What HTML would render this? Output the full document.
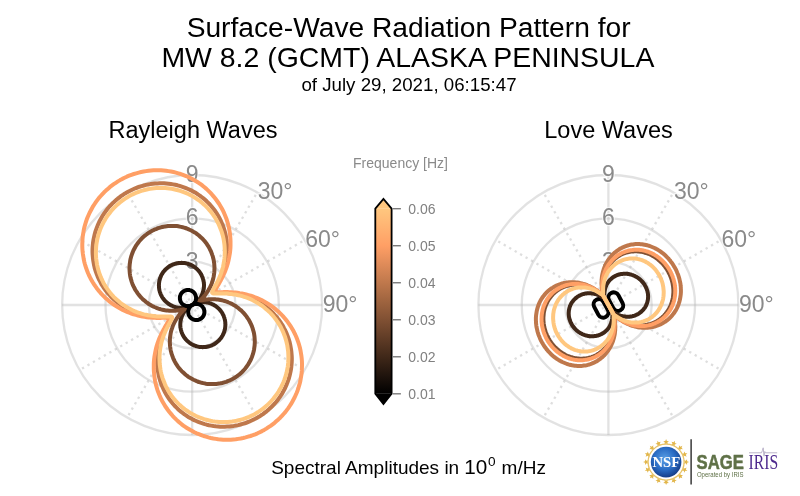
<!DOCTYPE html>
<html><head><meta charset="utf-8"><style>
    html,body{margin:0;padding:0;background:#fff;}
    svg{display:block;will-change:transform;}
    text{font-family:"Liberation Sans",sans-serif;}
    .t1{font-size:28.2px;fill:#000;}
    .t3{font-size:18.7px;fill:#000;}
    .st{font-size:23.5px;fill:#000;}
    .al{font-size:23px;fill:#8a8a8a;stroke:#fff;stroke-opacity:0.6;stroke-width:2.5px;paint-order:stroke;}
    .cl{font-size:14px;fill:#808080;}
    .ft{font-size:14px;fill:#8a8a8a;}
    .bt{font-size:19px;fill:#000;}
    </style></head>
<body><svg width="800" height="496" viewBox="0 0 800 496">
<text x="408.6" y="36.5" text-anchor="middle" class="t1">Surface-Wave Radiation Pattern for</text>
<text x="407.9" y="66.9" text-anchor="middle" class="t1" style="font-size:28.45px">MW 8.2 (GCMT) ALASKA PENINSULA</text>
<text x="409" y="90.7" text-anchor="middle" class="t3">of July 29, 2021, 06:15:47</text>
<text x="193" y="137.5" text-anchor="middle" class="st">Rayleigh Waves</text>
<text x="608.5" y="137.5" text-anchor="middle" class="st">Love Waves</text>
<circle cx="192.15" cy="305.0" r="43.33" fill="none" stroke="#b0b0b0" stroke-opacity="0.36" stroke-width="2.3"/>
<circle cx="192.15" cy="305.0" r="86.67" fill="none" stroke="#b0b0b0" stroke-opacity="0.36" stroke-width="2.3"/>
<circle cx="192.15" cy="305.0" r="130.00" fill="none" stroke="#b0b0b0" stroke-opacity="0.36" stroke-width="2.3"/>
<line x1="192.15" y1="305.0" x2="192.15" y2="175.00" stroke="#b0b0b0" stroke-opacity="0.36" stroke-width="2.3"/>
<line x1="192.15" y1="305.0" x2="257.15" y2="192.42" stroke="#b0b0b0" stroke-opacity="0.42" stroke-width="2.3" stroke-dasharray="2.3 4.0" stroke-dashoffset="1.15"/>
<line x1="192.15" y1="305.0" x2="304.73" y2="240.00" stroke="#b0b0b0" stroke-opacity="0.42" stroke-width="2.3" stroke-dasharray="2.3 4.0" stroke-dashoffset="1.15"/>
<line x1="192.15" y1="305.0" x2="322.15" y2="305.00" stroke="#b0b0b0" stroke-opacity="0.36" stroke-width="2.3"/>
<line x1="192.15" y1="305.0" x2="304.73" y2="370.00" stroke="#b0b0b0" stroke-opacity="0.42" stroke-width="2.3" stroke-dasharray="2.3 4.0" stroke-dashoffset="1.15"/>
<line x1="192.15" y1="305.0" x2="257.15" y2="417.58" stroke="#b0b0b0" stroke-opacity="0.42" stroke-width="2.3" stroke-dasharray="2.3 4.0" stroke-dashoffset="1.15"/>
<line x1="192.15" y1="305.0" x2="192.15" y2="435.00" stroke="#b0b0b0" stroke-opacity="0.36" stroke-width="2.3"/>
<line x1="192.15" y1="305.0" x2="127.15" y2="417.58" stroke="#b0b0b0" stroke-opacity="0.42" stroke-width="2.3" stroke-dasharray="2.3 4.0" stroke-dashoffset="1.15"/>
<line x1="192.15" y1="305.0" x2="79.57" y2="370.00" stroke="#b0b0b0" stroke-opacity="0.42" stroke-width="2.3" stroke-dasharray="2.3 4.0" stroke-dashoffset="1.15"/>
<line x1="192.15" y1="305.0" x2="62.15" y2="305.00" stroke="#b0b0b0" stroke-opacity="0.36" stroke-width="2.3"/>
<line x1="192.15" y1="305.0" x2="79.57" y2="240.00" stroke="#b0b0b0" stroke-opacity="0.42" stroke-width="2.3" stroke-dasharray="2.3 4.0" stroke-dashoffset="1.15"/>
<line x1="192.15" y1="305.0" x2="127.15" y2="192.42" stroke="#b0b0b0" stroke-opacity="0.42" stroke-width="2.3" stroke-dasharray="2.3 4.0" stroke-dashoffset="1.15"/>
<circle cx="608.4" cy="305.0" r="43.33" fill="none" stroke="#b0b0b0" stroke-opacity="0.36" stroke-width="2.3"/>
<circle cx="608.4" cy="305.0" r="86.67" fill="none" stroke="#b0b0b0" stroke-opacity="0.36" stroke-width="2.3"/>
<circle cx="608.4" cy="305.0" r="130.00" fill="none" stroke="#b0b0b0" stroke-opacity="0.36" stroke-width="2.3"/>
<line x1="608.4" y1="305.0" x2="608.40" y2="175.00" stroke="#b0b0b0" stroke-opacity="0.36" stroke-width="2.3"/>
<line x1="608.4" y1="305.0" x2="673.40" y2="192.42" stroke="#b0b0b0" stroke-opacity="0.42" stroke-width="2.3" stroke-dasharray="2.3 4.0" stroke-dashoffset="1.15"/>
<line x1="608.4" y1="305.0" x2="720.98" y2="240.00" stroke="#b0b0b0" stroke-opacity="0.42" stroke-width="2.3" stroke-dasharray="2.3 4.0" stroke-dashoffset="1.15"/>
<line x1="608.4" y1="305.0" x2="738.40" y2="305.00" stroke="#b0b0b0" stroke-opacity="0.36" stroke-width="2.3"/>
<line x1="608.4" y1="305.0" x2="720.98" y2="370.00" stroke="#b0b0b0" stroke-opacity="0.42" stroke-width="2.3" stroke-dasharray="2.3 4.0" stroke-dashoffset="1.15"/>
<line x1="608.4" y1="305.0" x2="673.40" y2="417.58" stroke="#b0b0b0" stroke-opacity="0.42" stroke-width="2.3" stroke-dasharray="2.3 4.0" stroke-dashoffset="1.15"/>
<line x1="608.4" y1="305.0" x2="608.40" y2="435.00" stroke="#b0b0b0" stroke-opacity="0.36" stroke-width="2.3"/>
<line x1="608.4" y1="305.0" x2="543.40" y2="417.58" stroke="#b0b0b0" stroke-opacity="0.42" stroke-width="2.3" stroke-dasharray="2.3 4.0" stroke-dashoffset="1.15"/>
<line x1="608.4" y1="305.0" x2="495.82" y2="370.00" stroke="#b0b0b0" stroke-opacity="0.42" stroke-width="2.3" stroke-dasharray="2.3 4.0" stroke-dashoffset="1.15"/>
<line x1="608.4" y1="305.0" x2="478.40" y2="305.00" stroke="#b0b0b0" stroke-opacity="0.36" stroke-width="2.3"/>
<line x1="608.4" y1="305.0" x2="495.82" y2="240.00" stroke="#b0b0b0" stroke-opacity="0.42" stroke-width="2.3" stroke-dasharray="2.3 4.0" stroke-dashoffset="1.15"/>
<line x1="608.4" y1="305.0" x2="543.40" y2="192.42" stroke="#b0b0b0" stroke-opacity="0.42" stroke-width="2.3" stroke-dasharray="2.3 4.0" stroke-dashoffset="1.15"/>
<text x="192.15" y="268.67" text-anchor="middle" class="al">3</text>
<text x="192.15" y="225.33" text-anchor="middle" class="al">6</text>
<text x="192.15" y="182.00" text-anchor="middle" class="al">9</text>
<text x="257.65" y="199.42" class="al">30°</text>
<text x="305.23" y="247.00" class="al">60°</text>
<text x="322.65" y="312.00" class="al">90°</text>
<text x="608.40" y="268.67" text-anchor="middle" class="al">3</text>
<text x="608.40" y="225.33" text-anchor="middle" class="al">6</text>
<text x="608.40" y="182.00" text-anchor="middle" class="al">9</text>
<text x="673.90" y="199.42" class="al">30°</text>
<text x="721.48" y="247.00" class="al">60°</text>
<text x="738.90" y="312.00" class="al">90°</text>
<path d="M192.2,265.6 L192.8,265.9 L193.5,266.3 L194.2,266.8 L194.8,267.2 L195.4,267.7 L196.0,268.2 L196.6,268.7 L197.2,269.2 L197.7,269.8 L198.3,270.4 L198.8,271.0 L199.3,271.6 L199.7,272.2 L200.2,272.8 L200.6,273.5 L201.0,274.2 L201.4,274.8 L201.7,275.5 L202.0,276.3 L202.4,277.0 L202.6,277.7 L202.9,278.4 L203.1,279.2 L203.3,279.9 L203.5,280.7 L203.6,281.5 L203.8,282.2 L203.9,283.0 L203.9,283.8 L204.0,284.5 L204.0,285.3 L204.0,286.1 L203.9,286.9 L203.9,287.6 L203.8,288.4 L203.7,289.2 L203.5,289.9 L203.4,290.7 L203.2,291.4 L202.9,292.1 L202.7,292.9 L202.4,293.6 L202.2,294.3 L201.8,295.0 L201.5,295.6 L201.2,296.3 L200.8,296.9 L200.4,297.6 L200.0,298.2 L199.6,298.8 L199.1,299.3 L198.7,299.9 L198.3,300.4 L197.8,300.9 L197.4,301.3 L197.0,301.8 L196.6,302.1 L196.2,302.5 L195.9,302.7 L195.7,302.9 L195.7,303.1 L195.7,303.1 L195.9,303.1 L196.2,303.0 L196.6,302.9 L197.1,302.8 L197.6,302.7 L198.2,302.6 L198.8,302.4 L199.5,302.3 L200.1,302.2 L200.8,302.2 L201.6,302.1 L202.3,302.1 L203.0,302.1 L203.8,302.1 L204.5,302.2 L205.2,302.2 L206.0,302.3 L206.7,302.4 L207.5,302.6 L208.2,302.7 L209.0,302.9 L209.7,303.2 L210.4,303.4 L211.1,303.7 L211.8,304.0 L212.5,304.3 L213.2,304.6 L213.9,305.0 L214.6,305.4 L215.2,305.8 L215.9,306.2 L216.5,306.7 L217.1,307.2 L217.7,307.7 L218.3,308.2 L218.8,308.8 L219.4,309.3 L219.9,309.9 L220.4,310.5 L220.9,311.1 L221.3,311.7 L221.8,312.4 L222.2,313.0 L222.6,313.7 L222.9,314.4 L223.3,315.1 L223.6,315.8 L223.9,316.5 L224.1,317.3 L224.4,318.0 L224.6,318.8 L224.8,319.5 L225.0,320.3 L225.1,321.1 L225.2,321.8 L225.3,322.6 L225.3,323.4 L225.4,324.2 L225.4,325.0 L225.3,325.7 L225.3,326.5 L225.2,327.3 L225.1,328.1 L225.0,328.9 L224.8,329.6 L224.6,330.4 L224.4,331.1 L224.2,331.9 L223.9,332.6 L223.6,333.3 L223.3,334.1 L223.0,334.8 L222.6,335.5 L222.2,336.1 L221.8,336.8 L221.4,337.5 L220.9,338.1 L220.4,338.7 L219.9,339.3 L219.4,339.9 L218.9,340.5 L218.3,341.0 L217.7,341.5 L217.1,342.0 L216.5,342.5 L215.9,343.0 L215.2,343.4 L214.6,343.9 L213.9,344.3 L213.2,344.6 L212.5,345.0 L211.8,345.3 L211.1,345.6 L210.3,345.9 L209.6,346.1 L208.9,346.3 L208.1,346.5 L207.3,346.7 L206.6,346.8 L205.8,347.0 L205.0,347.0 L204.2,347.1 L203.4,347.1 L202.7,347.2 L201.9,347.1 L201.1,347.1 L200.3,347.0 L199.5,346.9 L198.8,346.8 L198.0,346.6 L197.2,346.4 L196.5,346.2 L195.7,346.0 L195.0,345.7 L194.3,345.5 L193.6,345.1 L192.8,344.8 L192.2,344.4 L191.5,344.1 L190.8,343.7 L190.1,343.2 L189.5,342.8 L188.9,342.3 L188.3,341.8 L187.7,341.3 L187.1,340.8 L186.6,340.2 L186.0,339.6 L185.5,339.0 L185.0,338.4 L184.6,337.8 L184.1,337.2 L183.7,336.5 L183.3,335.8 L182.9,335.2 L182.6,334.5 L182.3,333.7 L181.9,333.0 L181.7,332.3 L181.4,331.6 L181.2,330.8 L181.0,330.1 L180.8,329.3 L180.7,328.5 L180.5,327.8 L180.4,327.0 L180.4,326.2 L180.3,325.5 L180.3,324.7 L180.3,323.9 L180.4,323.1 L180.4,322.4 L180.5,321.6 L180.6,320.8 L180.8,320.1 L180.9,319.3 L181.1,318.6 L181.4,317.9 L181.6,317.1 L181.9,316.4 L182.1,315.7 L182.5,315.0 L182.8,314.4 L183.1,313.7 L183.5,313.1 L183.9,312.4 L184.3,311.8 L184.7,311.2 L185.2,310.7 L185.6,310.1 L186.0,309.6 L186.5,309.1 L186.9,308.7 L187.3,308.2 L187.7,307.9 L188.1,307.5 L188.4,307.3 L188.6,307.1 L188.6,306.9 L188.6,306.9 L188.4,306.9 L188.1,307.0 L187.7,307.1 L187.2,307.2 L186.7,307.3 L186.1,307.4 L185.5,307.6 L184.8,307.7 L184.2,307.8 L183.5,307.8 L182.7,307.9 L182.0,307.9 L181.3,307.9 L180.5,307.9 L179.8,307.8 L179.1,307.8 L178.3,307.7 L177.6,307.6 L176.8,307.4 L176.1,307.3 L175.3,307.1 L174.6,306.8 L173.9,306.6 L173.2,306.3 L172.5,306.0 L171.8,305.7 L171.1,305.4 L170.4,305.0 L169.7,304.6 L169.1,304.2 L168.4,303.8 L167.8,303.3 L167.2,302.8 L166.6,302.3 L166.0,301.8 L165.5,301.2 L164.9,300.7 L164.4,300.1 L163.9,299.5 L163.4,298.9 L163.0,298.3 L162.5,297.6 L162.1,297.0 L161.7,296.3 L161.4,295.6 L161.0,294.9 L160.7,294.2 L160.4,293.5 L160.2,292.7 L159.9,292.0 L159.7,291.2 L159.5,290.5 L159.3,289.7 L159.2,288.9 L159.1,288.2 L159.0,287.4 L159.0,286.6 L158.9,285.8 L158.9,285.0 L159.0,284.3 L159.0,283.5 L159.1,282.7 L159.2,281.9 L159.3,281.1 L159.5,280.4 L159.7,279.6 L159.9,278.9 L160.1,278.1 L160.4,277.4 L160.7,276.7 L161.0,275.9 L161.3,275.2 L161.7,274.5 L162.1,273.9 L162.5,273.2 L162.9,272.5 L163.4,271.9 L163.9,271.3 L164.4,270.7 L164.9,270.1 L165.4,269.5 L166.0,269.0 L166.6,268.5 L167.2,268.0 L167.8,267.5 L168.4,267.0 L169.1,266.6 L169.7,266.1 L170.4,265.7 L171.1,265.4 L171.8,265.0 L172.5,264.7 L173.2,264.4 L174.0,264.1 L174.7,263.9 L175.4,263.7 L176.2,263.5 L177.0,263.3 L177.7,263.2 L178.5,263.0 L179.3,263.0 L180.1,262.9 L180.9,262.9 L181.6,262.8 L182.4,262.9 L183.2,262.9 L184.0,263.0 L184.8,263.1 L185.5,263.2 L186.3,263.4 L187.1,263.6 L187.8,263.8 L188.6,264.0 L189.3,264.3 L190.0,264.5 L190.7,264.9 L191.5,265.2 Z M195.7,303.1 L188.6,306.9" fill="none" stroke="#402819" stroke-width="4" stroke-linejoin="round"/>
<path d="M192.2,231.0 L193.4,231.7 L194.7,232.4 L195.9,233.2 L197.1,234.1 L198.3,235.0 L199.4,235.9 L200.5,236.9 L201.6,237.9 L202.6,238.9 L203.6,240.0 L204.6,241.1 L205.5,242.2 L206.4,243.4 L207.2,244.6 L208.0,245.8 L208.8,247.1 L209.5,248.4 L210.1,249.7 L210.8,251.0 L211.3,252.3 L211.8,253.7 L212.3,255.1 L212.8,256.4 L213.1,257.8 L213.5,259.3 L213.8,260.7 L214.0,262.1 L214.2,263.6 L214.3,265.0 L214.4,266.4 L214.5,267.9 L214.4,269.3 L214.4,270.8 L214.3,272.2 L214.1,273.6 L213.9,275.0 L213.7,276.4 L213.4,277.8 L213.1,279.2 L212.7,280.5 L212.2,281.9 L211.8,283.2 L211.3,284.5 L210.7,285.8 L210.2,287.0 L209.5,288.2 L208.9,289.4 L208.2,290.5 L207.5,291.6 L206.8,292.7 L206.1,293.7 L205.4,294.7 L204.7,295.6 L204.0,296.4 L203.3,297.2 L202.7,297.9 L202.1,298.5 L201.6,299.1 L201.3,299.5 L201.1,299.8 L201.0,300.1 L201.2,300.2 L201.5,300.2 L202.0,300.2 L202.6,300.1 L203.4,300.0 L204.3,299.8 L205.3,299.7 L206.4,299.5 L207.5,299.4 L208.7,299.3 L209.9,299.2 L211.2,299.2 L212.5,299.2 L213.8,299.2 L215.1,299.3 L216.5,299.4 L217.8,299.5 L219.2,299.7 L220.5,300.0 L221.9,300.3 L223.3,300.6 L224.6,301.0 L225.9,301.4 L227.3,301.9 L228.6,302.5 L229.9,303.0 L231.2,303.6 L232.5,304.3 L233.7,305.0 L235.0,305.7 L236.2,306.5 L237.3,307.4 L238.5,308.2 L239.6,309.2 L240.7,310.1 L241.8,311.1 L242.8,312.1 L243.8,313.2 L244.8,314.3 L245.7,315.4 L246.6,316.6 L247.4,317.8 L248.2,319.0 L249.0,320.2 L249.7,321.5 L250.3,322.8 L251.0,324.1 L251.6,325.5 L252.1,326.8 L252.6,328.2 L253.0,329.6 L253.4,331.0 L253.8,332.4 L254.1,333.9 L254.3,335.3 L254.5,336.8 L254.6,338.2 L254.7,339.7 L254.8,341.2 L254.8,342.6 L254.7,344.1 L254.6,345.6 L254.4,347.0 L254.2,348.5 L254.0,349.9 L253.7,351.3 L253.3,352.8 L252.9,354.2 L252.4,355.6 L251.9,357.0 L251.4,358.3 L250.8,359.7 L250.1,361.0 L249.4,362.3 L248.7,363.6 L247.9,364.8 L247.1,366.0 L246.2,367.2 L245.3,368.4 L244.4,369.5 L243.4,370.6 L242.4,371.7 L241.3,372.7 L240.2,373.7 L239.1,374.6 L237.9,375.5 L236.8,376.4 L235.5,377.2 L234.3,378.0 L233.0,378.7 L231.7,379.4 L230.4,380.1 L229.1,380.7 L227.7,381.2 L226.3,381.8 L224.9,382.2 L223.5,382.6 L222.1,383.0 L220.7,383.3 L219.2,383.6 L217.7,383.8 L216.3,384.0 L214.8,384.1 L213.4,384.1 L211.9,384.1 L210.4,384.1 L208.9,384.0 L207.5,383.9 L206.0,383.7 L204.6,383.4 L203.1,383.1 L201.7,382.8 L200.3,382.4 L198.9,382.0 L197.5,381.5 L196.1,380.9 L194.8,380.3 L193.5,379.7 L192.2,379.0 L190.9,378.3 L189.6,377.6 L188.4,376.8 L187.2,375.9 L186.0,375.0 L184.9,374.1 L183.8,373.1 L182.7,372.1 L181.7,371.1 L180.7,370.0 L179.7,368.9 L178.8,367.8 L177.9,366.6 L177.1,365.4 L176.3,364.2 L175.5,362.9 L174.8,361.6 L174.2,360.3 L173.5,359.0 L173.0,357.7 L172.5,356.3 L172.0,354.9 L171.5,353.6 L171.2,352.2 L170.8,350.7 L170.5,349.3 L170.3,347.9 L170.1,346.4 L170.0,345.0 L169.9,343.6 L169.8,342.1 L169.9,340.7 L169.9,339.2 L170.0,337.8 L170.2,336.4 L170.4,335.0 L170.6,333.6 L170.9,332.2 L171.2,330.8 L171.6,329.5 L172.1,328.1 L172.5,326.8 L173.0,325.5 L173.6,324.2 L174.1,323.0 L174.8,321.8 L175.4,320.6 L176.1,319.5 L176.8,318.4 L177.5,317.3 L178.2,316.3 L178.9,315.3 L179.6,314.4 L180.3,313.6 L181.0,312.8 L181.6,312.1 L182.2,311.5 L182.7,310.9 L183.0,310.5 L183.2,310.2 L183.3,309.9 L183.1,309.8 L182.8,309.8 L182.3,309.8 L181.7,309.9 L180.9,310.0 L180.0,310.2 L179.0,310.3 L177.9,310.5 L176.8,310.6 L175.6,310.7 L174.4,310.8 L173.1,310.8 L171.8,310.8 L170.5,310.8 L169.2,310.7 L167.8,310.6 L166.5,310.5 L165.1,310.3 L163.8,310.0 L162.4,309.7 L161.0,309.4 L159.7,309.0 L158.4,308.6 L157.0,308.1 L155.7,307.5 L154.4,307.0 L153.1,306.4 L151.8,305.7 L150.6,305.0 L149.3,304.3 L148.1,303.5 L147.0,302.6 L145.8,301.8 L144.7,300.8 L143.6,299.9 L142.5,298.9 L141.5,297.9 L140.5,296.8 L139.5,295.7 L138.6,294.6 L137.7,293.4 L136.9,292.2 L136.1,291.0 L135.3,289.8 L134.6,288.5 L134.0,287.2 L133.3,285.9 L132.7,284.5 L132.2,283.2 L131.7,281.8 L131.3,280.4 L130.9,279.0 L130.5,277.6 L130.2,276.1 L130.0,274.7 L129.8,273.2 L129.7,271.8 L129.6,270.3 L129.5,268.8 L129.5,267.4 L129.6,265.9 L129.7,264.4 L129.9,263.0 L130.1,261.5 L130.3,260.1 L130.6,258.7 L131.0,257.2 L131.4,255.8 L131.9,254.4 L132.4,253.0 L132.9,251.7 L133.5,250.3 L134.2,249.0 L134.9,247.7 L135.6,246.4 L136.4,245.2 L137.2,244.0 L138.1,242.8 L139.0,241.6 L139.9,240.5 L140.9,239.4 L141.9,238.3 L143.0,237.3 L144.1,236.3 L145.2,235.4 L146.4,234.5 L147.5,233.6 L148.8,232.8 L150.0,232.0 L151.3,231.3 L152.6,230.6 L153.9,229.9 L155.2,229.3 L156.6,228.8 L158.0,228.2 L159.4,227.8 L160.8,227.4 L162.2,227.0 L163.6,226.7 L165.1,226.4 L166.6,226.2 L168.0,226.0 L169.5,225.9 L170.9,225.9 L172.4,225.9 L173.9,225.9 L175.4,226.0 L176.8,226.1 L178.3,226.3 L179.7,226.6 L181.2,226.9 L182.6,227.2 L184.0,227.6 L185.4,228.0 L186.8,228.5 L188.2,229.1 L189.5,229.7 L190.8,230.3 Z M201.0,300.1 L183.3,309.9" fill="none" stroke="#805033" stroke-width="4" stroke-linejoin="round"/>
<path d="M192.2,190.9 L194.1,192.0 L196.1,193.1 L197.9,194.4 L199.8,195.6 L201.6,197.0 L203.4,198.4 L205.1,199.8 L206.7,201.3 L208.3,202.9 L209.9,204.5 L211.4,206.2 L212.8,207.9 L214.2,209.7 L215.5,211.5 L216.7,213.4 L217.9,215.3 L219.0,217.2 L220.0,219.2 L221.0,221.2 L221.9,223.2 L222.8,225.3 L223.5,227.4 L224.2,229.5 L224.8,231.6 L225.4,233.7 L225.8,235.9 L226.2,238.1 L226.6,240.3 L226.8,242.5 L227.0,244.6 L227.1,246.8 L227.1,249.0 L227.1,251.2 L227.0,253.3 L226.8,255.5 L226.6,257.6 L226.3,259.7 L225.9,261.8 L225.4,263.9 L225.0,265.9 L224.4,267.9 L223.8,269.8 L223.2,271.7 L222.5,273.6 L221.8,275.4 L221.0,277.1 L220.2,278.8 L219.4,280.4 L218.7,282.0 L217.9,283.4 L217.1,284.8 L216.4,286.1 L215.7,287.2 L215.1,288.3 L214.6,289.3 L214.2,290.1 L214.0,290.8 L213.8,291.5 L213.9,292.0 L214.1,292.3 L214.5,292.6 L215.0,292.8 L215.8,293.0 L216.7,293.0 L217.7,293.1 L218.9,293.1 L220.3,293.1 L221.7,293.1 L223.3,293.1 L224.9,293.1 L226.6,293.1 L228.4,293.2 L230.2,293.4 L232.1,293.5 L234.0,293.8 L236.0,294.1 L237.9,294.4 L239.9,294.8 L241.9,295.3 L243.9,295.9 L245.9,296.5 L247.9,297.2 L249.9,297.9 L251.9,298.7 L253.9,299.6 L255.8,300.5 L257.7,301.6 L259.6,302.6 L261.5,303.8 L263.3,305.0 L265.1,306.3 L266.9,307.6 L268.6,309.0 L270.3,310.5 L271.9,312.0 L273.5,313.5 L275.0,315.2 L276.4,316.8 L277.8,318.6 L279.2,320.3 L280.5,322.2 L281.7,324.0 L282.9,325.9 L283.9,327.9 L285.0,329.9 L285.9,331.9 L286.8,333.9 L287.6,336.0 L288.4,338.1 L289.1,340.3 L289.7,342.4 L290.2,344.6 L290.6,346.8 L291.0,349.0 L291.3,351.2 L291.5,353.5 L291.7,355.7 L291.8,358.0 L291.8,360.2 L291.7,362.5 L291.5,364.7 L291.3,366.9 L291.0,369.2 L290.6,371.4 L290.1,373.6 L289.6,375.8 L289.0,378.0 L288.3,380.1 L287.5,382.2 L286.7,384.4 L285.8,386.4 L284.9,388.5 L283.8,390.5 L282.7,392.5 L281.6,394.4 L280.3,396.3 L279.0,398.2 L277.7,400.0 L276.3,401.8 L274.8,403.5 L273.2,405.1 L271.7,406.8 L270.0,408.3 L268.3,409.9 L266.6,411.3 L264.8,412.7 L263.0,414.1 L261.1,415.3 L259.2,416.6 L257.2,417.7 L255.2,418.8 L253.2,419.8 L251.1,420.8 L249.1,421.7 L246.9,422.5 L244.8,423.3 L242.6,423.9 L240.4,424.5 L238.2,425.1 L236.0,425.5 L233.8,425.9 L231.5,426.2 L229.3,426.5 L227.0,426.6 L224.8,426.7 L222.5,426.7 L220.2,426.7 L218.0,426.5 L215.7,426.3 L213.5,426.0 L211.3,425.6 L209.0,425.2 L206.8,424.7 L204.7,424.1 L202.5,423.4 L200.4,422.7 L198.3,421.9 L196.2,421.0 L194.2,420.1 L192.2,419.1 L190.2,418.0 L188.2,416.9 L186.4,415.6 L184.5,414.4 L182.7,413.0 L180.9,411.6 L179.2,410.2 L177.6,408.7 L176.0,407.1 L174.4,405.5 L172.9,403.8 L171.5,402.1 L170.1,400.3 L168.8,398.5 L167.6,396.6 L166.4,394.7 L165.3,392.8 L164.3,390.8 L163.3,388.8 L162.4,386.8 L161.5,384.7 L160.8,382.6 L160.1,380.5 L159.5,378.4 L158.9,376.3 L158.5,374.1 L158.1,371.9 L157.7,369.7 L157.5,367.5 L157.3,365.4 L157.2,363.2 L157.2,361.0 L157.2,358.8 L157.3,356.7 L157.5,354.5 L157.7,352.4 L158.0,350.3 L158.4,348.2 L158.9,346.1 L159.3,344.1 L159.9,342.1 L160.5,340.2 L161.1,338.3 L161.8,336.4 L162.5,334.6 L163.3,332.9 L164.1,331.2 L164.9,329.6 L165.6,328.0 L166.4,326.6 L167.2,325.2 L167.9,323.9 L168.6,322.8 L169.2,321.7 L169.7,320.7 L170.1,319.9 L170.3,319.2 L170.5,318.5 L170.4,318.0 L170.2,317.7 L169.8,317.4 L169.3,317.2 L168.5,317.0 L167.6,317.0 L166.6,316.9 L165.4,316.9 L164.0,316.9 L162.6,316.9 L161.0,316.9 L159.4,316.9 L157.7,316.9 L155.9,316.8 L154.1,316.6 L152.2,316.5 L150.3,316.2 L148.3,315.9 L146.4,315.6 L144.4,315.2 L142.4,314.7 L140.4,314.1 L138.4,313.5 L136.4,312.8 L134.4,312.1 L132.4,311.3 L130.4,310.4 L128.5,309.5 L126.6,308.4 L124.7,307.4 L122.8,306.2 L121.0,305.0 L119.2,303.7 L117.4,302.4 L115.7,301.0 L114.0,299.5 L112.4,298.0 L110.8,296.5 L109.3,294.8 L107.9,293.2 L106.5,291.4 L105.1,289.7 L103.8,287.8 L102.6,286.0 L101.4,284.1 L100.4,282.1 L99.3,280.1 L98.4,278.1 L97.5,276.1 L96.7,274.0 L95.9,271.9 L95.2,269.7 L94.6,267.6 L94.1,265.4 L93.7,263.2 L93.3,261.0 L93.0,258.8 L92.8,256.5 L92.6,254.3 L92.5,252.0 L92.5,249.8 L92.6,247.5 L92.8,245.3 L93.0,243.1 L93.3,240.8 L93.7,238.6 L94.2,236.4 L94.7,234.2 L95.3,232.0 L96.0,229.9 L96.8,227.8 L97.6,225.6 L98.5,223.6 L99.4,221.5 L100.5,219.5 L101.6,217.5 L102.7,215.6 L104.0,213.7 L105.3,211.8 L106.6,210.0 L108.0,208.2 L109.5,206.5 L111.1,204.9 L112.6,203.2 L114.3,201.7 L116.0,200.1 L117.7,198.7 L119.5,197.3 L121.3,195.9 L123.2,194.7 L125.1,193.4 L127.1,192.3 L129.1,191.2 L131.1,190.2 L133.2,189.2 L135.2,188.3 L137.4,187.5 L139.5,186.7 L141.7,186.1 L143.9,185.5 L146.1,184.9 L148.3,184.5 L150.5,184.1 L152.8,183.8 L155.0,183.5 L157.3,183.4 L159.5,183.3 L161.8,183.3 L164.1,183.3 L166.3,183.5 L168.6,183.7 L170.8,184.0 L173.0,184.4 L175.3,184.8 L177.5,185.3 L179.6,185.9 L181.8,186.6 L183.9,187.3 L186.0,188.1 L188.1,189.0 L190.1,189.9 Z" fill="none" stroke="#bf784c" stroke-width="4" stroke-linejoin="round"/>
<path d="M192.2,179.0 L194.3,180.2 L196.5,181.5 L198.6,182.8 L200.6,184.2 L202.6,185.7 L204.5,187.3 L206.4,188.9 L208.2,190.6 L210.0,192.4 L211.7,194.2 L213.3,196.1 L214.9,198.0 L216.4,200.0 L217.8,202.0 L219.2,204.0 L220.5,206.2 L221.7,208.3 L222.9,210.5 L223.9,212.7 L224.9,215.0 L225.8,217.3 L226.7,219.6 L227.4,221.9 L228.1,224.3 L228.7,226.7 L229.2,229.1 L229.6,231.5 L230.0,233.9 L230.2,236.3 L230.4,238.7 L230.5,241.1 L230.5,243.6 L230.5,246.0 L230.4,248.3 L230.2,250.7 L229.9,253.1 L229.5,255.4 L229.1,257.7 L228.6,260.0 L228.1,262.2 L227.5,264.4 L226.8,266.5 L226.1,268.6 L225.3,270.7 L224.5,272.7 L223.6,274.6 L222.8,276.4 L221.9,278.2 L221.0,279.9 L220.1,281.5 L219.3,283.0 L218.5,284.4 L217.7,285.7 L217.0,286.9 L216.4,288.0 L216.0,288.9 L215.6,289.8 L215.5,290.4 L215.5,291.0 L215.7,291.4 L216.1,291.7 L216.7,292.0 L217.5,292.1 L218.5,292.2 L219.6,292.2 L220.9,292.2 L222.4,292.2 L224.0,292.1 L225.7,292.1 L227.5,292.1 L229.4,292.2 L231.3,292.3 L233.3,292.4 L235.4,292.6 L237.5,292.8 L239.7,293.2 L241.8,293.5 L244.0,294.0 L246.2,294.5 L248.4,295.1 L250.7,295.7 L252.9,296.5 L255.1,297.3 L257.3,298.2 L259.4,299.1 L261.6,300.1 L263.7,301.2 L265.8,302.4 L267.9,303.7 L269.9,305.0 L271.9,306.4 L273.9,307.9 L275.8,309.4 L277.6,311.0 L279.4,312.6 L281.2,314.4 L282.9,316.1 L284.5,318.0 L286.1,319.9 L287.6,321.8 L289.0,323.8 L290.4,325.9 L291.7,328.0 L292.9,330.1 L294.1,332.3 L295.2,334.5 L296.2,336.8 L297.1,339.1 L298.0,341.4 L298.8,343.8 L299.5,346.2 L300.1,348.6 L300.6,351.0 L301.0,353.5 L301.4,355.9 L301.7,358.4 L301.9,360.9 L302.0,363.4 L302.0,365.9 L301.9,368.4 L301.8,370.9 L301.6,373.4 L301.2,375.8 L300.8,378.3 L300.4,380.8 L299.8,383.2 L299.1,385.6 L298.4,388.0 L297.6,390.4 L296.7,392.7 L295.7,395.0 L294.7,397.3 L293.5,399.5 L292.3,401.8 L291.1,403.9 L289.7,406.0 L288.3,408.1 L286.8,410.1 L285.3,412.1 L283.6,414.0 L281.9,415.9 L280.2,417.7 L278.4,419.4 L276.5,421.1 L274.6,422.8 L272.6,424.3 L270.6,425.8 L268.5,427.2 L266.4,428.6 L264.2,429.9 L262.0,431.1 L259.8,432.2 L257.5,433.3 L255.2,434.3 L252.9,435.2 L250.5,436.0 L248.1,436.7 L245.6,437.4 L243.2,438.0 L240.7,438.5 L238.3,438.9 L235.8,439.3 L233.3,439.5 L230.8,439.7 L228.3,439.8 L225.7,439.8 L223.2,439.7 L220.7,439.5 L218.2,439.3 L215.8,438.9 L213.3,438.5 L210.8,438.0 L208.4,437.4 L206.0,436.7 L203.6,436.0 L201.3,435.1 L198.9,434.2 L196.6,433.3 L194.4,432.2 L192.2,431.0 L190.0,429.8 L187.8,428.5 L185.7,427.2 L183.7,425.8 L181.7,424.3 L179.8,422.7 L177.9,421.1 L176.1,419.4 L174.3,417.6 L172.6,415.8 L171.0,413.9 L169.4,412.0 L167.9,410.0 L166.5,408.0 L165.1,406.0 L163.8,403.8 L162.6,401.7 L161.4,399.5 L160.4,397.3 L159.4,395.0 L158.5,392.7 L157.6,390.4 L156.9,388.1 L156.2,385.7 L155.6,383.3 L155.1,380.9 L154.7,378.5 L154.3,376.1 L154.1,373.7 L153.9,371.3 L153.8,368.9 L153.8,366.4 L153.8,364.0 L153.9,361.7 L154.1,359.3 L154.4,356.9 L154.8,354.6 L155.2,352.3 L155.7,350.0 L156.2,347.8 L156.8,345.6 L157.5,343.5 L158.2,341.4 L159.0,339.3 L159.8,337.3 L160.7,335.4 L161.5,333.6 L162.4,331.8 L163.3,330.1 L164.2,328.5 L165.0,327.0 L165.8,325.6 L166.6,324.3 L167.3,323.1 L167.9,322.0 L168.3,321.1 L168.7,320.2 L168.8,319.6 L168.8,319.0 L168.6,318.6 L168.2,318.3 L167.6,318.0 L166.8,317.9 L165.8,317.8 L164.7,317.8 L163.4,317.8 L161.9,317.8 L160.3,317.9 L158.6,317.9 L156.8,317.9 L154.9,317.8 L153.0,317.7 L151.0,317.6 L148.9,317.4 L146.8,317.2 L144.6,316.8 L142.5,316.5 L140.3,316.0 L138.1,315.5 L135.9,314.9 L133.6,314.3 L131.4,313.5 L129.2,312.7 L127.0,311.8 L124.9,310.9 L122.7,309.9 L120.6,308.8 L118.5,307.6 L116.4,306.3 L114.4,305.0 L112.4,303.6 L110.4,302.1 L108.5,300.6 L106.7,299.0 L104.9,297.4 L103.1,295.6 L101.4,293.9 L99.8,292.0 L98.2,290.1 L96.7,288.2 L95.3,286.2 L93.9,284.1 L92.6,282.0 L91.4,279.9 L90.2,277.7 L89.1,275.5 L88.1,273.2 L87.2,270.9 L86.3,268.6 L85.5,266.2 L84.8,263.8 L84.2,261.4 L83.7,259.0 L83.3,256.5 L82.9,254.1 L82.6,251.6 L82.4,249.1 L82.3,246.6 L82.3,244.1 L82.4,241.6 L82.5,239.1 L82.7,236.6 L83.1,234.2 L83.5,231.7 L83.9,229.2 L84.5,226.8 L85.2,224.4 L85.9,222.0 L86.7,219.6 L87.6,217.3 L88.6,215.0 L89.6,212.7 L90.8,210.5 L92.0,208.2 L93.2,206.1 L94.6,204.0 L96.0,201.9 L97.5,199.9 L99.0,197.9 L100.7,196.0 L102.4,194.1 L104.1,192.3 L105.9,190.6 L107.8,188.9 L109.7,187.2 L111.7,185.7 L113.7,184.2 L115.8,182.8 L117.9,181.4 L120.1,180.1 L122.3,178.9 L124.5,177.8 L126.8,176.7 L129.1,175.7 L131.4,174.8 L133.8,174.0 L136.2,173.3 L138.7,172.6 L141.1,172.0 L143.6,171.5 L146.0,171.1 L148.5,170.7 L151.0,170.5 L153.5,170.3 L156.0,170.2 L158.6,170.2 L161.1,170.3 L163.6,170.5 L166.1,170.7 L168.5,171.1 L171.0,171.5 L173.5,172.0 L175.9,172.6 L178.3,173.3 L180.7,174.0 L183.0,174.9 L185.4,175.8 L187.7,176.7 L189.9,177.8 Z" fill="none" stroke="#ff9f65" stroke-width="4" stroke-linejoin="round"/>
<path d="M192.2,196.0 L194.0,197.1 L195.9,198.3 L197.7,199.5 L199.4,200.7 L201.2,202.1 L202.8,203.5 L204.4,204.9 L206.0,206.4 L207.5,208.0 L209.0,209.6 L210.4,211.2 L211.7,212.9 L213.0,214.6 L214.2,216.4 L215.4,218.2 L216.5,220.1 L217.5,222.0 L218.5,223.9 L219.4,225.9 L220.2,227.9 L221.0,229.9 L221.7,231.9 L222.3,233.9 L222.9,236.0 L223.4,238.1 L223.8,240.2 L224.1,242.3 L224.4,244.4 L224.6,246.5 L224.7,248.6 L224.8,250.7 L224.8,252.8 L224.7,254.8 L224.6,256.9 L224.4,259.0 L224.1,261.0 L223.8,263.0 L223.4,265.0 L223.0,266.9 L222.5,268.9 L221.9,270.7 L221.3,272.6 L220.7,274.4 L220.0,276.1 L219.3,277.8 L218.6,279.5 L217.8,281.0 L217.1,282.5 L216.3,284.0 L215.6,285.3 L214.9,286.6 L214.2,287.8 L213.6,288.8 L213.1,289.8 L212.7,290.6 L212.3,291.4 L212.1,292.0 L212.1,292.5 L212.2,292.9 L212.5,293.2 L213.0,293.4 L213.7,293.6 L214.5,293.6 L215.4,293.6 L216.5,293.6 L217.8,293.6 L219.1,293.6 L220.6,293.5 L222.1,293.5 L223.7,293.5 L225.4,293.6 L227.1,293.6 L228.9,293.8 L230.8,293.9 L232.6,294.2 L234.5,294.4 L236.4,294.8 L238.3,295.2 L240.3,295.6 L242.2,296.2 L244.1,296.8 L246.1,297.4 L248.0,298.1 L249.9,298.9 L251.8,299.8 L253.6,300.7 L255.5,301.7 L257.3,302.7 L259.1,303.8 L260.9,305.0 L262.6,306.2 L264.3,307.5 L265.9,308.9 L267.5,310.3 L269.1,311.7 L270.6,313.2 L272.1,314.8 L273.5,316.4 L274.8,318.1 L276.1,319.8 L277.4,321.6 L278.6,323.4 L279.7,325.2 L280.8,327.1 L281.7,329.0 L282.7,331.0 L283.5,332.9 L284.3,335.0 L285.1,337.0 L285.7,339.1 L286.3,341.1 L286.8,343.3 L287.3,345.4 L287.6,347.5 L287.9,349.7 L288.2,351.8 L288.3,354.0 L288.4,356.2 L288.4,358.4 L288.3,360.5 L288.2,362.7 L288.0,364.9 L287.7,367.0 L287.3,369.2 L286.9,371.3 L286.4,373.4 L285.8,375.5 L285.1,377.6 L284.4,379.7 L283.6,381.7 L282.7,383.7 L281.8,385.7 L280.8,387.7 L279.7,389.6 L278.6,391.5 L277.4,393.3 L276.2,395.1 L274.8,396.8 L273.5,398.5 L272.0,400.2 L270.6,401.8 L269.0,403.4 L267.4,404.9 L265.8,406.3 L264.1,407.7 L262.4,409.1 L260.6,410.4 L258.8,411.6 L256.9,412.8 L255.0,413.9 L253.1,414.9 L251.1,415.9 L249.1,416.8 L247.1,417.6 L245.0,418.4 L242.9,419.1 L240.8,419.7 L238.7,420.2 L236.6,420.7 L234.4,421.1 L232.2,421.5 L230.1,421.7 L227.9,421.9 L225.7,422.0 L223.5,422.1 L221.3,422.0 L219.1,421.9 L217.0,421.7 L214.8,421.5 L212.6,421.2 L210.5,420.8 L208.4,420.3 L206.2,419.7 L204.1,419.1 L202.1,418.4 L200.0,417.7 L198.0,416.9 L196.0,416.0 L194.1,415.0 L192.2,414.0 L190.3,412.9 L188.4,411.7 L186.6,410.5 L184.9,409.3 L183.1,407.9 L181.5,406.5 L179.9,405.1 L178.3,403.6 L176.8,402.0 L175.3,400.4 L173.9,398.8 L172.6,397.1 L171.3,395.4 L170.1,393.6 L168.9,391.8 L167.8,389.9 L166.8,388.0 L165.8,386.1 L164.9,384.1 L164.1,382.1 L163.3,380.1 L162.6,378.1 L162.0,376.1 L161.4,374.0 L160.9,371.9 L160.5,369.8 L160.2,367.7 L159.9,365.6 L159.7,363.5 L159.6,361.4 L159.5,359.3 L159.5,357.2 L159.6,355.2 L159.7,353.1 L159.9,351.0 L160.2,349.0 L160.5,347.0 L160.9,345.0 L161.3,343.1 L161.8,341.1 L162.4,339.3 L163.0,337.4 L163.6,335.6 L164.3,333.9 L165.0,332.2 L165.7,330.5 L166.5,329.0 L167.2,327.5 L168.0,326.0 L168.7,324.7 L169.4,323.4 L170.1,322.2 L170.7,321.2 L171.2,320.2 L171.6,319.4 L172.0,318.6 L172.2,318.0 L172.2,317.5 L172.1,317.1 L171.8,316.8 L171.3,316.6 L170.6,316.4 L169.8,316.4 L168.9,316.4 L167.8,316.4 L166.5,316.4 L165.2,316.4 L163.7,316.5 L162.2,316.5 L160.6,316.5 L158.9,316.4 L157.2,316.4 L155.4,316.2 L153.5,316.1 L151.7,315.8 L149.8,315.6 L147.9,315.2 L146.0,314.8 L144.0,314.4 L142.1,313.8 L140.2,313.2 L138.2,312.6 L136.3,311.9 L134.4,311.1 L132.5,310.2 L130.7,309.3 L128.8,308.3 L127.0,307.3 L125.2,306.2 L123.4,305.0 L121.7,303.8 L120.0,302.5 L118.4,301.1 L116.8,299.7 L115.2,298.3 L113.7,296.8 L112.2,295.2 L110.8,293.6 L109.5,291.9 L108.2,290.2 L106.9,288.4 L105.7,286.6 L104.6,284.8 L103.5,282.9 L102.6,281.0 L101.6,279.0 L100.8,277.1 L100.0,275.0 L99.2,273.0 L98.6,270.9 L98.0,268.9 L97.5,266.7 L97.0,264.6 L96.7,262.5 L96.4,260.3 L96.1,258.2 L96.0,256.0 L95.9,253.8 L95.9,251.6 L96.0,249.5 L96.1,247.3 L96.3,245.1 L96.6,243.0 L97.0,240.8 L97.4,238.7 L97.9,236.6 L98.5,234.5 L99.2,232.4 L99.9,230.3 L100.7,228.3 L101.6,226.3 L102.5,224.3 L103.5,222.3 L104.6,220.4 L105.7,218.5 L106.9,216.7 L108.1,214.9 L109.5,213.2 L110.8,211.5 L112.3,209.8 L113.7,208.2 L115.3,206.6 L116.9,205.1 L118.5,203.7 L120.2,202.3 L121.9,200.9 L123.7,199.6 L125.5,198.4 L127.4,197.2 L129.3,196.1 L131.2,195.1 L133.2,194.1 L135.2,193.2 L137.2,192.4 L139.3,191.6 L141.4,190.9 L143.5,190.3 L145.6,189.8 L147.7,189.3 L149.9,188.9 L152.1,188.5 L154.2,188.3 L156.4,188.1 L158.6,188.0 L160.8,187.9 L163.0,188.0 L165.2,188.1 L167.3,188.3 L169.5,188.5 L171.7,188.8 L173.8,189.2 L175.9,189.7 L178.1,190.3 L180.2,190.9 L182.2,191.6 L184.3,192.3 L186.3,193.1 L188.3,194.0 L190.2,195.0 Z" fill="none" stroke="#ffc77f" stroke-width="4" stroke-linejoin="round"/>
<path d="M192.2,291.1 L192.4,291.3 L192.6,291.4 L192.9,291.6 L193.1,291.8 L193.3,291.9 L193.5,292.1 L193.7,292.3 L193.9,292.5 L194.1,292.7 L194.3,293.0 L194.4,293.2 L194.6,293.4 L194.8,293.6 L194.9,293.9 L195.1,294.1 L195.2,294.4 L195.3,294.6 L195.4,294.9 L195.5,295.2 L195.6,295.4 L195.7,295.7 L195.8,296.0 L195.9,296.2 L195.9,296.5 L196.0,296.8 L196.0,297.1 L196.0,297.3 L196.1,297.6 L196.1,297.9 L196.1,298.2 L196.1,298.5 L196.1,298.8 L196.0,299.0 L196.0,299.3 L195.9,299.6 L195.9,299.9 L195.8,300.1 L195.7,300.4 L195.6,300.7 L195.5,301.0 L195.4,301.2 L195.3,301.5 L195.2,301.7 L195.1,302.0 L194.9,302.2 L194.8,302.5 L194.6,302.7 L194.5,302.9 L194.3,303.1 L194.1,303.4 L193.9,303.6 L193.7,303.8 L193.5,304.0 L193.3,304.2 L193.1,304.3 L192.9,304.5 L192.7,304.7 L192.5,304.8 L192.4,304.8 L192.5,304.8 L192.7,304.7 L192.9,304.6 L193.2,304.5 L193.4,304.4 L193.7,304.3 L194.0,304.2 L194.2,304.1 L194.5,304.0 L194.8,304.0 L195.1,303.9 L195.3,303.9 L195.6,303.9 L195.9,303.9 L196.2,303.8 L196.5,303.8 L196.8,303.9 L197.0,303.9 L197.3,303.9 L197.6,303.9 L197.9,304.0 L198.2,304.0 L198.4,304.1 L198.7,304.2 L199.0,304.3 L199.2,304.4 L199.5,304.5 L199.8,304.6 L200.0,304.7 L200.3,304.9 L200.5,305.0 L200.7,305.1 L201.0,305.3 L201.2,305.5 L201.4,305.6 L201.6,305.8 L201.9,306.0 L202.1,306.2 L202.3,306.4 L202.4,306.6 L202.6,306.8 L202.8,307.1 L203.0,307.3 L203.1,307.5 L203.3,307.8 L203.4,308.0 L203.5,308.3 L203.7,308.5 L203.8,308.8 L203.9,309.0 L204.0,309.3 L204.1,309.6 L204.1,309.8 L204.2,310.1 L204.3,310.4 L204.3,310.7 L204.4,311.0 L204.4,311.2 L204.4,311.5 L204.4,311.8 L204.4,312.1 L204.4,312.4 L204.4,312.7 L204.4,312.9 L204.3,313.2 L204.3,313.5 L204.2,313.8 L204.1,314.0 L204.1,314.3 L204.0,314.6 L203.9,314.8 L203.8,315.1 L203.7,315.4 L203.5,315.6 L203.4,315.9 L203.3,316.1 L203.1,316.4 L203.0,316.6 L202.8,316.8 L202.6,317.0 L202.4,317.3 L202.2,317.5 L202.1,317.7 L201.8,317.9 L201.6,318.1 L201.4,318.2 L201.2,318.4 L201.0,318.6 L200.7,318.7 L200.5,318.9 L200.3,319.0 L200.0,319.2 L199.7,319.3 L199.5,319.4 L199.2,319.5 L199.0,319.6 L198.7,319.7 L198.4,319.8 L198.1,319.8 L197.9,319.9 L197.6,319.9 L197.3,320.0 L197.0,320.0 L196.7,320.0 L196.5,320.0 L196.2,320.0 L195.9,320.0 L195.6,320.0 L195.3,320.0 L195.1,319.9 L194.8,319.9 L194.5,319.8 L194.2,319.8 L194.0,319.7 L193.7,319.6 L193.4,319.5 L193.2,319.4 L192.9,319.3 L192.6,319.2 L192.4,319.0 L192.2,318.9 L191.9,318.7 L191.7,318.6 L191.4,318.4 L191.2,318.2 L191.0,318.1 L190.8,317.9 L190.6,317.7 L190.4,317.5 L190.2,317.3 L190.0,317.0 L189.9,316.8 L189.7,316.6 L189.5,316.4 L189.4,316.1 L189.2,315.9 L189.1,315.6 L189.0,315.4 L188.9,315.1 L188.8,314.8 L188.7,314.6 L188.6,314.3 L188.5,314.0 L188.4,313.8 L188.4,313.5 L188.3,313.2 L188.3,312.9 L188.3,312.7 L188.2,312.4 L188.2,312.1 L188.2,311.8 L188.2,311.5 L188.2,311.2 L188.3,311.0 L188.3,310.7 L188.4,310.4 L188.4,310.1 L188.5,309.9 L188.6,309.6 L188.7,309.3 L188.8,309.0 L188.9,308.8 L189.0,308.5 L189.1,308.3 L189.2,308.0 L189.4,307.8 L189.5,307.5 L189.7,307.3 L189.8,307.1 L190.0,306.9 L190.2,306.6 L190.4,306.4 L190.6,306.2 L190.8,306.0 L191.0,305.8 L191.2,305.7 L191.4,305.5 L191.6,305.3 L191.8,305.2 L191.9,305.2 L191.8,305.2 L191.6,305.3 L191.4,305.4 L191.1,305.5 L190.9,305.6 L190.6,305.7 L190.3,305.8 L190.1,305.9 L189.8,306.0 L189.5,306.0 L189.2,306.1 L189.0,306.1 L188.7,306.1 L188.4,306.1 L188.1,306.2 L187.8,306.2 L187.5,306.1 L187.3,306.1 L187.0,306.1 L186.7,306.1 L186.4,306.0 L186.1,306.0 L185.9,305.9 L185.6,305.8 L185.3,305.7 L185.1,305.6 L184.8,305.5 L184.5,305.4 L184.3,305.3 L184.0,305.1 L183.8,305.0 L183.6,304.9 L183.3,304.7 L183.1,304.5 L182.9,304.4 L182.7,304.2 L182.4,304.0 L182.2,303.8 L182.0,303.6 L181.9,303.4 L181.7,303.2 L181.5,302.9 L181.3,302.7 L181.2,302.5 L181.0,302.2 L180.9,302.0 L180.8,301.7 L180.6,301.5 L180.5,301.2 L180.4,301.0 L180.3,300.7 L180.2,300.4 L180.2,300.2 L180.1,299.9 L180.0,299.6 L180.0,299.3 L179.9,299.0 L179.9,298.8 L179.9,298.5 L179.9,298.2 L179.9,297.9 L179.9,297.6 L179.9,297.3 L179.9,297.1 L180.0,296.8 L180.0,296.5 L180.1,296.2 L180.2,296.0 L180.2,295.7 L180.3,295.4 L180.4,295.2 L180.5,294.9 L180.6,294.6 L180.8,294.4 L180.9,294.1 L181.0,293.9 L181.2,293.6 L181.3,293.4 L181.5,293.2 L181.7,293.0 L181.9,292.7 L182.1,292.5 L182.2,292.3 L182.5,292.1 L182.7,291.9 L182.9,291.8 L183.1,291.6 L183.3,291.4 L183.6,291.3 L183.8,291.1 L184.0,291.0 L184.3,290.8 L184.6,290.7 L184.8,290.6 L185.1,290.5 L185.3,290.4 L185.6,290.3 L185.9,290.2 L186.2,290.2 L186.4,290.1 L186.7,290.1 L187.0,290.0 L187.3,290.0 L187.6,290.0 L187.8,290.0 L188.1,290.0 L188.4,290.0 L188.7,290.0 L189.0,290.0 L189.2,290.1 L189.5,290.1 L189.8,290.2 L190.1,290.2 L190.3,290.3 L190.6,290.4 L190.9,290.5 L191.1,290.6 L191.4,290.7 L191.7,290.8 L191.9,291.0 Z" fill="none" stroke="#000000" stroke-width="4" stroke-linejoin="round"/>
<rect x="606.00" y="296.30" width="19.6" height="10.6" rx="5.3" ry="5.3" transform="rotate(62 615.80 301.60)" fill="none" stroke="#000000" stroke-width="4"/>
<rect x="591.20" y="303.10" width="19.6" height="10.6" rx="5.3" ry="5.3" transform="rotate(62 601.00 308.40)" fill="none" stroke="#000000" stroke-width="4"/>
<path d="M608.4,281.8 L608.8,281.3 L609.2,280.8 L609.7,280.2 L610.2,279.7 L610.7,279.3 L611.2,278.8 L611.7,278.4 L612.2,277.9 L612.8,277.5 L613.3,277.1 L613.9,276.8 L614.5,276.4 L615.1,276.1 L615.7,275.8 L616.3,275.5 L616.9,275.2 L617.6,275.0 L618.2,274.7 L618.9,274.5 L619.6,274.4 L620.2,274.2 L620.9,274.1 L621.6,273.9 L622.3,273.9 L623.0,273.8 L623.6,273.7 L624.3,273.7 L625.0,273.7 L625.7,273.7 L626.4,273.8 L627.1,273.8 L627.8,273.9 L628.5,274.0 L629.2,274.2 L629.9,274.3 L630.6,274.5 L631.3,274.7 L631.9,274.9 L632.6,275.1 L633.3,275.4 L633.9,275.6 L634.6,275.9 L635.2,276.3 L635.8,276.6 L636.5,276.9 L637.1,277.3 L637.7,277.7 L638.3,278.1 L638.8,278.5 L639.4,279.0 L640.0,279.4 L640.5,279.9 L641.0,280.4 L641.5,280.9 L642.0,281.5 L642.5,282.0 L643.0,282.5 L643.4,283.1 L643.9,283.7 L644.3,284.3 L644.7,284.9 L645.0,285.5 L645.4,286.2 L645.7,286.8 L646.0,287.5 L646.3,288.1 L646.6,288.8 L646.8,289.5 L647.1,290.2 L647.3,290.8 L647.5,291.5 L647.6,292.3 L647.8,293.0 L647.9,293.7 L648.0,294.4 L648.0,295.1 L648.1,295.8 L648.1,296.6 L648.1,297.3 L648.0,298.0 L648.0,298.7 L647.9,299.5 L647.8,300.2 L647.6,300.9 L647.5,301.6 L647.3,302.3 L647.1,303.0 L646.8,303.7 L646.6,304.3 L646.3,305.0 L646.0,305.7 L645.6,306.3 L645.3,306.9 L644.9,307.6 L644.5,308.2 L644.0,308.7 L643.6,309.3 L643.1,309.9 L642.6,310.4 L642.1,310.9 L641.6,311.4 L641.0,311.9 L640.4,312.4 L639.9,312.8 L639.3,313.3 L638.6,313.7 L638.0,314.0 L637.3,314.4 L636.7,314.7 L636.0,315.0 L635.3,315.3 L634.6,315.6 L633.9,315.8 L633.2,316.0 L632.5,316.2 L631.7,316.4 L631.0,316.5 L630.2,316.6 L629.5,316.7 L628.7,316.7 L628.0,316.8 L627.3,316.8 L626.5,316.8 L625.8,316.7 L625.0,316.6 L624.3,316.6 L623.6,316.4 L622.9,316.3 L622.2,316.1 L621.5,316.0 L620.8,315.8 L620.1,315.5 L619.5,315.3 L618.8,315.1 L618.2,314.8 L617.6,314.5 L617.1,314.3 L616.5,314.0 L616.0,313.7 L615.5,313.5 L615.0,313.2 L614.6,312.9 L614.2,312.7 L613.9,312.5 L613.5,312.3 L613.3,312.2 L613.0,312.1 L612.8,312.1 L612.7,312.1 L612.6,312.2 L612.5,312.4 L612.4,312.6 L612.4,312.8 L612.4,313.2 L612.4,313.5 L612.4,314.0 L612.4,314.4 L612.4,314.9 L612.4,315.4 L612.4,316.0 L612.4,316.5 L612.3,317.1 L612.3,317.7 L612.2,318.3 L612.1,319.0 L612.0,319.6 L611.9,320.2 L611.8,320.9 L611.6,321.5 L611.4,322.2 L611.2,322.8 L611.0,323.4 L610.7,324.0 L610.5,324.7 L610.2,325.3 L609.9,325.9 L609.5,326.5 L609.2,327.0 L608.8,327.6 L608.4,328.2 L608.0,328.7 L607.6,329.2 L607.1,329.8 L606.6,330.3 L606.1,330.7 L605.6,331.2 L605.1,331.6 L604.6,332.1 L604.0,332.5 L603.5,332.9 L602.9,333.2 L602.3,333.6 L601.7,333.9 L601.1,334.2 L600.5,334.5 L599.9,334.8 L599.2,335.0 L598.6,335.3 L597.9,335.5 L597.2,335.6 L596.6,335.8 L595.9,335.9 L595.2,336.1 L594.5,336.1 L593.8,336.2 L593.2,336.3 L592.5,336.3 L591.8,336.3 L591.1,336.3 L590.4,336.2 L589.7,336.2 L589.0,336.1 L588.3,336.0 L587.6,335.8 L586.9,335.7 L586.2,335.5 L585.5,335.3 L584.9,335.1 L584.2,334.9 L583.5,334.6 L582.9,334.4 L582.2,334.1 L581.6,333.7 L581.0,333.4 L580.3,333.1 L579.7,332.7 L579.1,332.3 L578.5,331.9 L578.0,331.5 L577.4,331.0 L576.8,330.6 L576.3,330.1 L575.8,329.6 L575.3,329.1 L574.8,328.5 L574.3,328.0 L573.8,327.5 L573.4,326.9 L572.9,326.3 L572.5,325.7 L572.1,325.1 L571.8,324.5 L571.4,323.8 L571.1,323.2 L570.8,322.5 L570.5,321.9 L570.2,321.2 L570.0,320.5 L569.7,319.8 L569.5,319.2 L569.3,318.5 L569.2,317.7 L569.0,317.0 L568.9,316.3 L568.8,315.6 L568.8,314.9 L568.7,314.2 L568.7,313.4 L568.7,312.7 L568.8,312.0 L568.8,311.3 L568.9,310.5 L569.0,309.8 L569.2,309.1 L569.3,308.4 L569.5,307.7 L569.7,307.0 L570.0,306.3 L570.2,305.7 L570.5,305.0 L570.8,304.3 L571.2,303.7 L571.5,303.1 L571.9,302.4 L572.3,301.8 L572.8,301.3 L573.2,300.7 L573.7,300.1 L574.2,299.6 L574.7,299.1 L575.2,298.6 L575.8,298.1 L576.4,297.6 L576.9,297.2 L577.5,296.7 L578.2,296.3 L578.8,296.0 L579.5,295.6 L580.1,295.3 L580.8,295.0 L581.5,294.7 L582.2,294.4 L582.9,294.2 L583.6,294.0 L584.3,293.8 L585.1,293.6 L585.8,293.5 L586.6,293.4 L587.3,293.3 L588.1,293.3 L588.8,293.2 L589.5,293.2 L590.3,293.2 L591.0,293.3 L591.8,293.4 L592.5,293.4 L593.2,293.6 L593.9,293.7 L594.6,293.9 L595.3,294.0 L596.0,294.2 L596.7,294.5 L597.3,294.7 L598.0,294.9 L598.6,295.2 L599.2,295.5 L599.7,295.7 L600.3,296.0 L600.8,296.3 L601.3,296.5 L601.8,296.8 L602.2,297.1 L602.6,297.3 L602.9,297.5 L603.3,297.7 L603.5,297.8 L603.8,297.9 L604.0,297.9 L604.1,297.9 L604.2,297.8 L604.3,297.6 L604.4,297.4 L604.4,297.2 L604.4,296.8 L604.4,296.5 L604.4,296.0 L604.4,295.6 L604.4,295.1 L604.4,294.6 L604.4,294.0 L604.4,293.5 L604.5,292.9 L604.5,292.3 L604.6,291.7 L604.7,291.0 L604.8,290.4 L604.9,289.8 L605.0,289.1 L605.2,288.5 L605.4,287.8 L605.6,287.2 L605.8,286.6 L606.1,286.0 L606.3,285.3 L606.6,284.7 L606.9,284.1 L607.3,283.5 L607.6,283.0 L608.0,282.4 Z M612.7,312.1 L604.1,297.9" fill="none" stroke="#402819" stroke-width="4" stroke-linejoin="round"/>
<path d="M608.4,266.0 L609.1,265.0 L609.8,264.0 L610.6,263.1 L611.4,262.1 L612.2,261.2 L613.1,260.4 L614.0,259.5 L614.9,258.8 L615.8,258.0 L616.8,257.3 L617.8,256.6 L618.8,256.0 L619.9,255.3 L620.9,254.8 L622.0,254.3 L623.1,253.8 L624.2,253.3 L625.3,252.9 L626.4,252.6 L627.6,252.3 L628.7,252.0 L629.9,251.8 L631.1,251.6 L632.2,251.5 L633.4,251.4 L634.6,251.3 L635.8,251.3 L636.9,251.3 L638.1,251.4 L639.3,251.5 L640.5,251.7 L641.6,251.8 L642.8,252.1 L643.9,252.4 L645.0,252.7 L646.2,253.0 L647.3,253.4 L648.4,253.8 L649.5,254.3 L650.6,254.8 L651.6,255.3 L652.7,255.9 L653.7,256.4 L654.7,257.1 L655.7,257.7 L656.6,258.4 L657.6,259.1 L658.5,259.9 L659.4,260.7 L660.3,261.5 L661.1,262.3 L662.0,263.1 L662.8,264.0 L663.6,264.9 L664.3,265.8 L665.1,266.8 L665.8,267.8 L666.4,268.7 L667.1,269.7 L667.7,270.8 L668.3,271.8 L668.8,272.9 L669.4,273.9 L669.9,275.0 L670.3,276.1 L670.8,277.2 L671.2,278.3 L671.6,279.5 L671.9,280.6 L672.2,281.8 L672.5,282.9 L672.7,284.1 L672.9,285.3 L673.1,286.5 L673.2,287.6 L673.3,288.8 L673.4,290.0 L673.4,291.2 L673.4,292.4 L673.3,293.6 L673.2,294.7 L673.1,295.9 L673.0,297.1 L672.8,298.2 L672.5,299.4 L672.3,300.5 L672.0,301.7 L671.6,302.8 L671.2,303.9 L670.8,305.0 L670.3,306.1 L669.8,307.1 L669.3,308.2 L668.7,309.2 L668.1,310.2 L667.5,311.2 L666.8,312.2 L666.1,313.1 L665.4,314.0 L664.6,314.9 L663.8,315.8 L663.0,316.6 L662.1,317.4 L661.2,318.2 L660.3,318.9 L659.3,319.6 L658.3,320.3 L657.3,320.9 L656.3,321.5 L655.2,322.0 L654.1,322.5 L653.0,323.0 L651.9,323.5 L650.7,323.9 L649.6,324.2 L648.4,324.5 L647.2,324.8 L646.0,325.0 L644.8,325.2 L643.6,325.3 L642.4,325.4 L641.2,325.5 L639.9,325.5 L638.7,325.4 L637.5,325.3 L636.2,325.2 L635.0,325.1 L633.8,324.8 L632.6,324.6 L631.4,324.3 L630.2,324.0 L629.1,323.6 L627.9,323.2 L626.8,322.8 L625.7,322.3 L624.6,321.8 L623.6,321.3 L622.6,320.7 L621.6,320.2 L620.7,319.6 L619.8,319.1 L618.9,318.5 L618.2,317.9 L617.4,317.4 L616.8,316.9 L616.2,316.5 L615.6,316.1 L615.2,315.8 L614.8,315.7 L614.5,315.6 L614.3,315.6 L614.2,315.8 L614.1,316.1 L614.1,316.6 L614.1,317.2 L614.1,317.8 L614.2,318.6 L614.2,319.4 L614.3,320.4 L614.3,321.3 L614.4,322.4 L614.4,323.4 L614.4,324.5 L614.3,325.6 L614.2,326.8 L614.1,328.0 L614.0,329.1 L613.8,330.3 L613.6,331.5 L613.3,332.7 L613.0,333.9 L612.6,335.1 L612.2,336.2 L611.8,337.4 L611.3,338.5 L610.8,339.7 L610.3,340.8 L609.7,341.9 L609.1,342.9 L608.4,344.0 L607.7,345.0 L607.0,346.0 L606.2,346.9 L605.4,347.9 L604.6,348.8 L603.7,349.6 L602.8,350.5 L601.9,351.2 L601.0,352.0 L600.0,352.7 L599.0,353.4 L598.0,354.0 L596.9,354.7 L595.9,355.2 L594.8,355.7 L593.7,356.2 L592.6,356.7 L591.5,357.1 L590.4,357.4 L589.2,357.7 L588.1,358.0 L586.9,358.2 L585.7,358.4 L584.6,358.5 L583.4,358.6 L582.2,358.7 L581.0,358.7 L579.9,358.7 L578.7,358.6 L577.5,358.5 L576.3,358.3 L575.2,358.2 L574.0,357.9 L572.9,357.6 L571.8,357.3 L570.6,357.0 L569.5,356.6 L568.4,356.2 L567.3,355.7 L566.2,355.2 L565.2,354.7 L564.1,354.1 L563.1,353.6 L562.1,352.9 L561.1,352.3 L560.2,351.6 L559.2,350.9 L558.3,350.1 L557.4,349.3 L556.5,348.5 L555.7,347.7 L554.8,346.9 L554.0,346.0 L553.2,345.1 L552.5,344.2 L551.7,343.2 L551.0,342.2 L550.4,341.3 L549.7,340.3 L549.1,339.2 L548.5,338.2 L548.0,337.1 L547.4,336.1 L546.9,335.0 L546.5,333.9 L546.0,332.8 L545.6,331.7 L545.2,330.5 L544.9,329.4 L544.6,328.2 L544.3,327.1 L544.1,325.9 L543.9,324.7 L543.7,323.5 L543.6,322.4 L543.5,321.2 L543.4,320.0 L543.4,318.8 L543.4,317.6 L543.5,316.4 L543.6,315.3 L543.7,314.1 L543.8,312.9 L544.0,311.8 L544.3,310.6 L544.5,309.5 L544.8,308.3 L545.2,307.2 L545.6,306.1 L546.0,305.0 L546.5,303.9 L547.0,302.9 L547.5,301.8 L548.1,300.8 L548.7,299.8 L549.3,298.8 L550.0,297.8 L550.7,296.9 L551.4,296.0 L552.2,295.1 L553.0,294.2 L553.8,293.4 L554.7,292.6 L555.6,291.8 L556.5,291.1 L557.5,290.4 L558.5,289.7 L559.5,289.1 L560.5,288.5 L561.6,288.0 L562.7,287.5 L563.8,287.0 L564.9,286.5 L566.1,286.1 L567.2,285.8 L568.4,285.5 L569.6,285.2 L570.8,285.0 L572.0,284.8 L573.2,284.7 L574.4,284.6 L575.6,284.5 L576.9,284.5 L578.1,284.6 L579.3,284.7 L580.6,284.8 L581.8,284.9 L583.0,285.2 L584.2,285.4 L585.4,285.7 L586.6,286.0 L587.7,286.4 L588.9,286.8 L590.0,287.2 L591.1,287.7 L592.2,288.2 L593.2,288.7 L594.2,289.3 L595.2,289.8 L596.1,290.4 L597.0,290.9 L597.9,291.5 L598.6,292.1 L599.4,292.6 L600.0,293.1 L600.6,293.5 L601.2,293.9 L601.6,294.2 L602.0,294.3 L602.3,294.4 L602.5,294.4 L602.6,294.2 L602.7,293.9 L602.7,293.4 L602.7,292.8 L602.7,292.2 L602.6,291.4 L602.6,290.6 L602.5,289.6 L602.5,288.7 L602.4,287.6 L602.4,286.6 L602.4,285.5 L602.5,284.4 L602.6,283.2 L602.7,282.0 L602.8,280.9 L603.0,279.7 L603.2,278.5 L603.5,277.3 L603.8,276.1 L604.2,274.9 L604.6,273.8 L605.0,272.6 L605.5,271.5 L606.0,270.3 L606.5,269.2 L607.1,268.1 L607.7,267.1 Z M614.3,315.6 L602.5,294.4" fill="none" stroke="#805033" stroke-width="4" stroke-linejoin="round"/>
<path d="M608.4,259.8 L609.2,258.7 L610.1,257.6 L610.9,256.5 L611.9,255.4 L612.8,254.4 L613.8,253.5 L614.8,252.6 L615.9,251.7 L617.0,250.9 L618.1,250.1 L619.2,249.3 L620.4,248.6 L621.6,248.0 L622.8,247.4 L624.0,246.9 L625.2,246.4 L626.5,245.9 L627.7,245.5 L629.0,245.1 L630.3,244.8 L631.6,244.6 L632.9,244.4 L634.2,244.2 L635.5,244.1 L636.8,244.1 L638.1,244.1 L639.4,244.1 L640.7,244.2 L642.0,244.3 L643.3,244.5 L644.6,244.7 L645.9,245.0 L647.2,245.3 L648.4,245.6 L649.7,246.0 L650.9,246.5 L652.1,247.0 L653.3,247.5 L654.5,248.0 L655.7,248.6 L656.9,249.2 L658.0,249.9 L659.1,250.6 L660.2,251.3 L661.3,252.1 L662.3,252.9 L663.4,253.7 L664.4,254.6 L665.4,255.5 L666.3,256.4 L667.2,257.3 L668.2,258.3 L669.0,259.3 L669.9,260.3 L670.7,261.4 L671.5,262.4 L672.3,263.5 L673.0,264.6 L673.7,265.7 L674.4,266.9 L675.1,268.1 L675.7,269.2 L676.3,270.4 L676.8,271.6 L677.3,272.9 L677.8,274.1 L678.3,275.3 L678.7,276.6 L679.1,277.9 L679.4,279.1 L679.7,280.4 L680.0,281.7 L680.3,283.0 L680.5,284.3 L680.6,285.6 L680.8,287.0 L680.8,288.3 L680.9,289.6 L680.9,290.9 L680.9,292.2 L680.8,293.5 L680.7,294.8 L680.5,296.1 L680.3,297.4 L680.1,298.7 L679.8,300.0 L679.5,301.3 L679.1,302.5 L678.7,303.8 L678.3,305.0 L677.8,306.2 L677.3,307.4 L676.7,308.6 L676.1,309.7 L675.4,310.9 L674.7,312.0 L674.0,313.0 L673.2,314.1 L672.4,315.1 L671.5,316.1 L670.6,317.1 L669.7,318.0 L668.7,318.9 L667.7,319.8 L666.6,320.6 L665.6,321.4 L664.4,322.1 L663.3,322.8 L662.1,323.5 L660.9,324.1 L659.7,324.7 L658.5,325.2 L657.2,325.7 L655.9,326.1 L654.6,326.5 L653.2,326.9 L651.9,327.1 L650.5,327.4 L649.1,327.6 L647.7,327.7 L646.3,327.8 L644.9,327.8 L643.5,327.8 L642.1,327.7 L640.6,327.6 L639.2,327.4 L637.8,327.2 L636.4,326.9 L635.0,326.6 L633.7,326.2 L632.3,325.8 L630.9,325.3 L629.6,324.8 L628.3,324.2 L627.0,323.6 L625.8,323.0 L624.6,322.4 L623.4,321.7 L622.3,321.0 L621.2,320.3 L620.2,319.6 L619.2,318.9 L618.3,318.2 L617.5,317.5 L616.7,316.9 L616.1,316.4 L615.5,315.9 L615.0,315.6 L614.7,315.5 L614.4,315.5 L614.3,315.6 L614.2,316.0 L614.3,316.5 L614.3,317.2 L614.5,318.0 L614.6,318.9 L614.8,320.0 L614.9,321.1 L615.0,322.3 L615.1,323.5 L615.2,324.8 L615.3,326.1 L615.3,327.5 L615.2,328.8 L615.2,330.2 L615.0,331.6 L614.9,333.0 L614.7,334.4 L614.4,335.8 L614.1,337.2 L613.7,338.6 L613.3,340.0 L612.9,341.3 L612.4,342.7 L611.8,344.0 L611.2,345.3 L610.6,346.5 L609.9,347.8 L609.2,349.0 L608.4,350.2 L607.6,351.3 L606.7,352.4 L605.9,353.5 L604.9,354.6 L604.0,355.6 L603.0,356.5 L602.0,357.4 L600.9,358.3 L599.8,359.1 L598.7,359.9 L597.6,360.7 L596.4,361.4 L595.2,362.0 L594.0,362.6 L592.8,363.1 L591.6,363.6 L590.3,364.1 L589.1,364.5 L587.8,364.9 L586.5,365.2 L585.2,365.4 L583.9,365.6 L582.6,365.8 L581.3,365.9 L580.0,365.9 L578.7,365.9 L577.4,365.9 L576.1,365.8 L574.8,365.7 L573.5,365.5 L572.2,365.3 L570.9,365.0 L569.6,364.7 L568.4,364.4 L567.1,364.0 L565.9,363.5 L564.7,363.0 L563.5,362.5 L562.3,362.0 L561.1,361.4 L559.9,360.8 L558.8,360.1 L557.7,359.4 L556.6,358.7 L555.5,357.9 L554.5,357.1 L553.4,356.3 L552.4,355.4 L551.4,354.5 L550.5,353.6 L549.6,352.7 L548.6,351.7 L547.8,350.7 L546.9,349.7 L546.1,348.6 L545.3,347.6 L544.5,346.5 L543.8,345.4 L543.1,344.3 L542.4,343.1 L541.7,341.9 L541.1,340.8 L540.5,339.6 L540.0,338.4 L539.5,337.1 L539.0,335.9 L538.5,334.7 L538.1,333.4 L537.7,332.1 L537.4,330.9 L537.1,329.6 L536.8,328.3 L536.5,327.0 L536.3,325.7 L536.2,324.4 L536.0,323.0 L536.0,321.7 L535.9,320.4 L535.9,319.1 L535.9,317.8 L536.0,316.5 L536.1,315.2 L536.3,313.9 L536.5,312.6 L536.7,311.3 L537.0,310.0 L537.3,308.7 L537.7,307.5 L538.1,306.2 L538.5,305.0 L539.0,303.8 L539.5,302.6 L540.1,301.4 L540.7,300.3 L541.4,299.1 L542.1,298.0 L542.8,297.0 L543.6,295.9 L544.4,294.9 L545.3,293.9 L546.2,292.9 L547.1,292.0 L548.1,291.1 L549.1,290.2 L550.2,289.4 L551.2,288.6 L552.4,287.9 L553.5,287.2 L554.7,286.5 L555.9,285.9 L557.1,285.3 L558.3,284.8 L559.6,284.3 L560.9,283.9 L562.2,283.5 L563.6,283.1 L564.9,282.9 L566.3,282.6 L567.7,282.4 L569.1,282.3 L570.5,282.2 L571.9,282.2 L573.3,282.2 L574.7,282.3 L576.2,282.4 L577.6,282.6 L579.0,282.8 L580.4,283.1 L581.8,283.4 L583.1,283.8 L584.5,284.2 L585.9,284.7 L587.2,285.2 L588.5,285.8 L589.8,286.4 L591.0,287.0 L592.2,287.6 L593.4,288.3 L594.5,289.0 L595.6,289.7 L596.6,290.4 L597.6,291.1 L598.5,291.8 L599.3,292.5 L600.1,293.1 L600.7,293.6 L601.3,294.1 L601.8,294.4 L602.1,294.5 L602.4,294.5 L602.5,294.4 L602.6,294.0 L602.5,293.5 L602.5,292.8 L602.3,292.0 L602.2,291.1 L602.0,290.0 L601.9,288.9 L601.8,287.7 L601.7,286.5 L601.6,285.2 L601.5,283.9 L601.5,282.5 L601.6,281.2 L601.6,279.8 L601.8,278.4 L601.9,277.0 L602.1,275.6 L602.4,274.2 L602.7,272.8 L603.1,271.4 L603.5,270.0 L603.9,268.7 L604.4,267.3 L605.0,266.0 L605.6,264.7 L606.2,263.5 L606.9,262.2 L607.6,261.0 Z M614.4,315.5 L602.4,294.5" fill="none" stroke="#bf784c" stroke-width="4" stroke-linejoin="round"/>
<path d="M608.4,264.9 L609.1,263.9 L609.9,262.9 L610.7,261.9 L611.5,260.9 L612.3,260.0 L613.2,259.1 L614.1,258.2 L615.1,257.4 L616.1,256.6 L617.1,255.9 L618.1,255.2 L619.1,254.5 L620.2,253.9 L621.3,253.3 L622.4,252.8 L623.5,252.3 L624.6,251.9 L625.8,251.4 L627.0,251.1 L628.1,250.8 L629.3,250.5 L630.5,250.3 L631.7,250.1 L632.9,249.9 L634.1,249.8 L635.3,249.8 L636.6,249.7 L637.8,249.8 L639.0,249.8 L640.2,250.0 L641.4,250.1 L642.6,250.3 L643.8,250.6 L644.9,250.8 L646.1,251.2 L647.3,251.5 L648.4,251.9 L649.5,252.3 L650.7,252.8 L651.8,253.3 L652.9,253.9 L653.9,254.4 L655.0,255.1 L656.0,255.7 L657.0,256.4 L658.0,257.1 L659.0,257.8 L659.9,258.6 L660.9,259.4 L661.8,260.2 L662.7,261.1 L663.5,261.9 L664.4,262.8 L665.2,263.8 L665.9,264.7 L666.7,265.7 L667.4,266.7 L668.1,267.7 L668.8,268.7 L669.4,269.8 L670.0,270.8 L670.6,271.9 L671.1,273.0 L671.6,274.2 L672.1,275.3 L672.6,276.4 L673.0,277.6 L673.4,278.7 L673.7,279.9 L674.0,281.1 L674.3,282.3 L674.6,283.5 L674.8,284.7 L674.9,285.9 L675.1,287.1 L675.2,288.4 L675.2,289.6 L675.3,290.8 L675.2,292.0 L675.2,293.2 L675.1,294.4 L675.0,295.6 L674.8,296.8 L674.6,298.0 L674.4,299.2 L674.1,300.4 L673.8,301.6 L673.4,302.7 L673.0,303.9 L672.6,305.0 L672.1,306.1 L671.6,307.2 L671.1,308.3 L670.5,309.3 L669.9,310.4 L669.2,311.4 L668.5,312.4 L667.8,313.3 L667.0,314.3 L666.2,315.2 L665.4,316.1 L664.5,316.9 L663.6,317.8 L662.7,318.5 L661.7,319.3 L660.8,320.0 L659.7,320.7 L658.7,321.3 L657.6,322.0 L656.5,322.5 L655.4,323.1 L654.3,323.5 L653.1,324.0 L652.0,324.4 L650.8,324.8 L649.6,325.1 L648.3,325.4 L647.1,325.6 L645.9,325.8 L644.6,325.9 L643.4,326.0 L642.1,326.1 L640.8,326.1 L639.6,326.0 L638.3,325.9 L637.0,325.8 L635.8,325.6 L634.5,325.4 L633.3,325.2 L632.1,324.9 L630.9,324.5 L629.7,324.1 L628.5,323.7 L627.3,323.3 L626.2,322.8 L625.1,322.3 L624.0,321.8 L623.0,321.2 L622.0,320.6 L621.0,320.0 L620.1,319.5 L619.2,318.9 L618.4,318.3 L617.7,317.8 L617.0,317.3 L616.4,316.8 L615.8,316.4 L615.4,316.2 L615.0,316.0 L614.7,315.9 L614.5,316.0 L614.3,316.1 L614.2,316.5 L614.2,316.9 L614.2,317.5 L614.3,318.2 L614.3,319.0 L614.4,319.9 L614.5,320.8 L614.5,321.8 L614.5,322.9 L614.6,324.0 L614.5,325.1 L614.5,326.2 L614.4,327.4 L614.3,328.6 L614.1,329.8 L613.9,331.1 L613.7,332.3 L613.4,333.5 L613.1,334.7 L612.7,335.9 L612.3,337.1 L611.9,338.3 L611.4,339.5 L610.9,340.7 L610.3,341.8 L609.7,342.9 L609.1,344.0 L608.4,345.1 L607.7,346.1 L606.9,347.1 L606.1,348.1 L605.3,349.1 L604.5,350.0 L603.6,350.9 L602.7,351.8 L601.7,352.6 L600.7,353.4 L599.7,354.1 L598.7,354.8 L597.7,355.5 L596.6,356.1 L595.5,356.7 L594.4,357.2 L593.3,357.7 L592.2,358.1 L591.0,358.6 L589.8,358.9 L588.7,359.2 L587.5,359.5 L586.3,359.7 L585.1,359.9 L583.9,360.1 L582.7,360.2 L581.5,360.2 L580.2,360.3 L579.0,360.2 L577.8,360.2 L576.6,360.0 L575.4,359.9 L574.2,359.7 L573.0,359.4 L571.9,359.2 L570.7,358.8 L569.5,358.5 L568.4,358.1 L567.3,357.7 L566.1,357.2 L565.0,356.7 L563.9,356.1 L562.9,355.6 L561.8,354.9 L560.8,354.3 L559.8,353.6 L558.8,352.9 L557.8,352.2 L556.9,351.4 L555.9,350.6 L555.0,349.8 L554.1,348.9 L553.3,348.1 L552.4,347.2 L551.6,346.2 L550.9,345.3 L550.1,344.3 L549.4,343.3 L548.7,342.3 L548.0,341.3 L547.4,340.2 L546.8,339.2 L546.2,338.1 L545.7,337.0 L545.2,335.8 L544.7,334.7 L544.2,333.6 L543.8,332.4 L543.4,331.3 L543.1,330.1 L542.8,328.9 L542.5,327.7 L542.2,326.5 L542.0,325.3 L541.9,324.1 L541.7,322.9 L541.6,321.6 L541.6,320.4 L541.5,319.2 L541.6,318.0 L541.6,316.8 L541.7,315.6 L541.8,314.4 L542.0,313.2 L542.2,312.0 L542.4,310.8 L542.7,309.6 L543.0,308.4 L543.4,307.3 L543.8,306.1 L544.2,305.0 L544.7,303.9 L545.2,302.8 L545.7,301.7 L546.3,300.7 L546.9,299.6 L547.6,298.6 L548.3,297.6 L549.0,296.7 L549.8,295.7 L550.6,294.8 L551.4,293.9 L552.3,293.1 L553.2,292.2 L554.1,291.5 L555.1,290.7 L556.0,290.0 L557.1,289.3 L558.1,288.7 L559.2,288.0 L560.3,287.5 L561.4,286.9 L562.5,286.5 L563.7,286.0 L564.8,285.6 L566.0,285.2 L567.2,284.9 L568.5,284.6 L569.7,284.4 L570.9,284.2 L572.2,284.1 L573.4,284.0 L574.7,283.9 L576.0,283.9 L577.2,284.0 L578.5,284.1 L579.8,284.2 L581.0,284.4 L582.3,284.6 L583.5,284.8 L584.7,285.1 L585.9,285.5 L587.1,285.9 L588.3,286.3 L589.5,286.7 L590.6,287.2 L591.7,287.7 L592.8,288.2 L593.8,288.8 L594.8,289.4 L595.8,290.0 L596.7,290.5 L597.6,291.1 L598.4,291.7 L599.1,292.2 L599.8,292.7 L600.4,293.2 L601.0,293.6 L601.4,293.8 L601.8,294.0 L602.1,294.1 L602.3,294.0 L602.5,293.9 L602.6,293.5 L602.6,293.1 L602.6,292.5 L602.5,291.8 L602.5,291.0 L602.4,290.1 L602.3,289.2 L602.3,288.2 L602.3,287.1 L602.2,286.0 L602.3,284.9 L602.3,283.8 L602.4,282.6 L602.5,281.4 L602.7,280.2 L602.9,278.9 L603.1,277.7 L603.4,276.5 L603.7,275.3 L604.1,274.1 L604.5,272.9 L604.9,271.7 L605.4,270.5 L605.9,269.3 L606.5,268.2 L607.1,267.1 L607.7,266.0 Z M614.5,315.9 L602.3,294.1" fill="none" stroke="#ff9f65" stroke-width="4" stroke-linejoin="round"/>
<path d="M608.4,271.5 L609.0,270.7 L609.6,269.8 L610.3,269.0 L611.0,268.2 L611.7,267.4 L612.4,266.6 L613.2,265.9 L614.0,265.2 L614.8,264.5 L615.7,263.9 L616.5,263.3 L617.4,262.7 L618.3,262.2 L619.2,261.7 L620.1,261.2 L621.1,260.8 L622.0,260.4 L623.0,260.0 L624.0,259.7 L625.0,259.4 L626.0,259.1 L627.0,258.9 L628.0,258.8 L629.0,258.6 L630.1,258.5 L631.1,258.5 L632.1,258.5 L633.1,258.5 L634.2,258.5 L635.2,258.6 L636.2,258.7 L637.2,258.9 L638.2,259.1 L639.2,259.3 L640.2,259.6 L641.2,259.9 L642.1,260.2 L643.1,260.6 L644.0,261.0 L644.9,261.4 L645.9,261.9 L646.8,262.4 L647.6,262.9 L648.5,263.5 L649.3,264.1 L650.2,264.7 L651.0,265.3 L651.8,266.0 L652.5,266.6 L653.3,267.4 L654.0,268.1 L654.7,268.8 L655.4,269.6 L656.0,270.4 L656.6,271.2 L657.2,272.1 L657.8,272.9 L658.4,273.8 L658.9,274.6 L659.4,275.5 L659.9,276.5 L660.3,277.4 L660.8,278.3 L661.2,279.3 L661.5,280.2 L661.9,281.2 L662.2,282.2 L662.5,283.2 L662.7,284.2 L662.9,285.1 L663.1,286.2 L663.3,287.2 L663.4,288.2 L663.5,289.2 L663.6,290.2 L663.7,291.2 L663.7,292.2 L663.7,293.2 L663.6,294.3 L663.6,295.3 L663.5,296.3 L663.3,297.3 L663.2,298.3 L663.0,299.3 L662.8,300.2 L662.5,301.2 L662.2,302.2 L661.9,303.1 L661.6,304.1 L661.2,305.0 L660.8,305.9 L660.4,306.8 L659.9,307.7 L659.4,308.6 L658.9,309.4 L658.4,310.3 L657.8,311.1 L657.2,311.9 L656.6,312.6 L655.9,313.4 L655.3,314.1 L654.5,314.8 L653.8,315.5 L653.1,316.1 L652.3,316.8 L651.5,317.4 L650.7,317.9 L649.8,318.5 L649.0,319.0 L648.1,319.5 L647.2,319.9 L646.3,320.3 L645.4,320.7 L644.4,321.0 L643.5,321.4 L642.5,321.6 L641.5,321.9 L640.6,322.1 L639.6,322.3 L638.6,322.4 L637.6,322.5 L636.6,322.6 L635.5,322.6 L634.5,322.6 L633.5,322.6 L632.5,322.5 L631.5,322.4 L630.5,322.3 L629.5,322.1 L628.5,321.9 L627.6,321.7 L626.6,321.4 L625.7,321.1 L624.7,320.8 L623.8,320.4 L623.0,320.1 L622.1,319.7 L621.3,319.3 L620.5,318.9 L619.7,318.4 L618.9,318.0 L618.2,317.6 L617.6,317.2 L617.0,316.8 L616.4,316.4 L615.9,316.1 L615.4,315.8 L615.0,315.6 L614.7,315.5 L614.4,315.4 L614.2,315.4 L614.0,315.5 L613.9,315.7 L613.8,316.0 L613.7,316.4 L613.7,316.9 L613.7,317.5 L613.7,318.1 L613.7,318.8 L613.7,319.6 L613.7,320.4 L613.7,321.2 L613.6,322.1 L613.6,323.0 L613.5,324.0 L613.4,324.9 L613.2,325.9 L613.0,326.9 L612.8,327.9 L612.6,328.8 L612.3,329.8 L612.0,330.8 L611.7,331.8 L611.3,332.8 L610.9,333.8 L610.5,334.7 L610.0,335.7 L609.5,336.6 L609.0,337.6 L608.4,338.5 L607.8,339.3 L607.2,340.2 L606.5,341.0 L605.8,341.8 L605.1,342.6 L604.4,343.4 L603.6,344.1 L602.8,344.8 L602.0,345.5 L601.1,346.1 L600.3,346.7 L599.4,347.3 L598.5,347.8 L597.6,348.3 L596.7,348.8 L595.7,349.2 L594.8,349.6 L593.8,350.0 L592.8,350.3 L591.8,350.6 L590.8,350.9 L589.8,351.1 L588.8,351.2 L587.8,351.4 L586.7,351.5 L585.7,351.5 L584.7,351.5 L583.7,351.5 L582.6,351.5 L581.6,351.4 L580.6,351.3 L579.6,351.1 L578.6,350.9 L577.6,350.7 L576.6,350.4 L575.6,350.1 L574.7,349.8 L573.7,349.4 L572.8,349.0 L571.9,348.6 L570.9,348.1 L570.0,347.6 L569.2,347.1 L568.3,346.5 L567.5,345.9 L566.6,345.3 L565.8,344.7 L565.0,344.0 L564.3,343.4 L563.5,342.6 L562.8,341.9 L562.1,341.2 L561.4,340.4 L560.8,339.6 L560.2,338.8 L559.6,337.9 L559.0,337.1 L558.4,336.2 L557.9,335.4 L557.4,334.5 L556.9,333.5 L556.5,332.6 L556.0,331.7 L555.6,330.7 L555.3,329.8 L554.9,328.8 L554.6,327.8 L554.3,326.8 L554.1,325.8 L553.9,324.9 L553.7,323.8 L553.5,322.8 L553.4,321.8 L553.3,320.8 L553.2,319.8 L553.1,318.8 L553.1,317.8 L553.1,316.8 L553.2,315.7 L553.2,314.7 L553.3,313.7 L553.5,312.7 L553.6,311.7 L553.8,310.7 L554.0,309.8 L554.3,308.8 L554.6,307.8 L554.9,306.9 L555.2,305.9 L555.6,305.0 L556.0,304.1 L556.4,303.2 L556.9,302.3 L557.4,301.4 L557.9,300.6 L558.4,299.7 L559.0,298.9 L559.6,298.1 L560.2,297.4 L560.9,296.6 L561.5,295.9 L562.3,295.2 L563.0,294.5 L563.7,293.9 L564.5,293.2 L565.3,292.6 L566.1,292.1 L567.0,291.5 L567.8,291.0 L568.7,290.5 L569.6,290.1 L570.5,289.7 L571.4,289.3 L572.4,289.0 L573.3,288.6 L574.3,288.4 L575.3,288.1 L576.2,287.9 L577.2,287.7 L578.2,287.6 L579.2,287.5 L580.2,287.4 L581.3,287.4 L582.3,287.4 L583.3,287.4 L584.3,287.5 L585.3,287.6 L586.3,287.7 L587.3,287.9 L588.3,288.1 L589.2,288.3 L590.2,288.6 L591.1,288.9 L592.1,289.2 L593.0,289.6 L593.8,289.9 L594.7,290.3 L595.5,290.7 L596.3,291.1 L597.1,291.6 L597.9,292.0 L598.6,292.4 L599.2,292.8 L599.8,293.2 L600.4,293.6 L600.9,293.9 L601.4,294.2 L601.8,294.4 L602.1,294.5 L602.4,294.6 L602.6,294.6 L602.8,294.5 L602.9,294.3 L603.0,294.0 L603.1,293.6 L603.1,293.1 L603.1,292.5 L603.1,291.9 L603.1,291.2 L603.1,290.4 L603.1,289.6 L603.1,288.8 L603.2,287.9 L603.2,287.0 L603.3,286.0 L603.4,285.1 L603.6,284.1 L603.8,283.1 L604.0,282.1 L604.2,281.2 L604.5,280.2 L604.8,279.2 L605.1,278.2 L605.5,277.2 L605.9,276.2 L606.3,275.3 L606.8,274.3 L607.3,273.4 L607.8,272.4 Z M614.1,315.5 L602.7,294.5" fill="none" stroke="#ffc77f" stroke-width="4" stroke-linejoin="round"/>
<defs><linearGradient id="cg" x1="0" y1="1" x2="0" y2="0"><stop offset="0.00" stop-color="#000000"/><stop offset="0.10" stop-color="#20140d"/><stop offset="0.20" stop-color="#402819"/><stop offset="0.30" stop-color="#603c26"/><stop offset="0.40" stop-color="#805033"/><stop offset="0.50" stop-color="#9f643f"/><stop offset="0.60" stop-color="#bf784c"/><stop offset="0.70" stop-color="#df8b59"/><stop offset="0.80" stop-color="#ff9f65"/><stop offset="0.90" stop-color="#ffb372"/><stop offset="1.00" stop-color="#ffc77f"/></linearGradient></defs>
<rect x="375.3" y="208.7" width="16.30" height="185.10" fill="url(#cg)"/>
<polygon points="375.3,208.7 383.45000000000005,199.0 391.6,208.7" fill="#ffc77f"/>
<polygon points="375.3,393.8 383.45000000000005,404.0 391.6,393.8" fill="#000"/>
<polygon points="375.3,208.7 383.45000000000005,199.0 391.6,208.7 391.6,393.8 383.45000000000005,404.0 375.3,393.8" fill="none" stroke="#000" stroke-width="1.8" stroke-linejoin="miter"/>
<line x1="392.5" y1="393.80" x2="400.90000000000003" y2="393.80" stroke="#7a7a7a" stroke-width="1.4"/>
<text x="408.3" y="398.80" class="cl">0.01</text>
<line x1="392.5" y1="356.78" x2="400.90000000000003" y2="356.78" stroke="#7a7a7a" stroke-width="1.4"/>
<text x="408.3" y="361.78" class="cl">0.02</text>
<line x1="392.5" y1="319.76" x2="400.90000000000003" y2="319.76" stroke="#7a7a7a" stroke-width="1.4"/>
<text x="408.3" y="324.76" class="cl">0.03</text>
<line x1="392.5" y1="282.74" x2="400.90000000000003" y2="282.74" stroke="#7a7a7a" stroke-width="1.4"/>
<text x="408.3" y="287.74" class="cl">0.04</text>
<line x1="392.5" y1="245.72" x2="400.90000000000003" y2="245.72" stroke="#7a7a7a" stroke-width="1.4"/>
<text x="408.3" y="250.72" class="cl">0.05</text>
<line x1="392.5" y1="208.70" x2="400.90000000000003" y2="208.70" stroke="#7a7a7a" stroke-width="1.4"/>
<text x="408.3" y="213.70" class="cl">0.06</text>
<text x="400.5" y="167.6" text-anchor="middle" class="ft">Frequency [Hz]</text>
<text x="271.2" y="473.5" class="bt">Spectral Amplitudes in</text>
<text x="464.3" y="473.5" class="bt" style="font-size:20px" textLength="23" lengthAdjust="spacingAndGlyphs">10</text>
<text x="488.0" y="465.6" class="bt" style="font-size:12.8px" textLength="7.6" lengthAdjust="spacingAndGlyphs">0</text>
<text x="501.6" y="473.5" class="bt">m/Hz</text>
<defs><radialGradient id="gl" cx="0.45" cy="0.4" r="0.65"><stop offset="0" stop-color="#5aa0e6"/><stop offset="0.55" stop-color="#2a6cc4"/><stop offset="1" stop-color="#12357e"/></radialGradient></defs>
<polygon points="666.10,439.10 666.86,441.05 668.95,441.17 667.34,442.50 667.86,444.53 666.10,443.40 664.34,444.53 664.86,442.50 663.25,441.17 665.34,441.05" fill="#e2b64a"/>
<polygon points="674.90,440.85 674.86,442.94 676.74,443.86 674.74,444.47 674.45,446.54 673.26,444.82 671.20,445.19 672.46,443.52 671.47,441.67 673.45,442.36" fill="#e2b64a"/>
<polygon points="682.36,445.84 681.53,447.75 682.92,449.32 680.83,449.12 679.77,450.92 679.32,448.88 677.28,448.43 679.08,447.37 678.88,445.28 680.45,446.67" fill="#e2b64a"/>
<polygon points="687.35,453.30 685.84,454.75 686.53,456.73 684.68,455.74 683.01,457.00 683.38,454.94 681.66,453.75 683.73,453.46 684.34,451.46 685.26,453.34" fill="#e2b64a"/>
<polygon points="689.10,462.10 687.15,462.86 687.03,464.95 685.70,463.34 683.67,463.86 684.80,462.10 683.67,460.34 685.70,460.86 687.03,459.25 687.15,461.34" fill="#e2b64a"/>
<polygon points="687.35,470.90 685.26,470.86 684.34,472.74 683.73,470.74 681.66,470.45 683.38,469.26 683.01,467.20 684.68,468.46 686.53,467.47 685.84,469.45" fill="#e2b64a"/>
<polygon points="682.36,478.36 680.45,477.53 678.88,478.92 679.08,476.83 677.28,475.77 679.32,475.32 679.77,473.28 680.83,475.08 682.92,474.88 681.53,476.45" fill="#e2b64a"/>
<polygon points="674.90,483.35 673.45,481.84 671.47,482.53 672.46,480.68 671.20,479.01 673.26,479.38 674.45,477.66 674.74,479.73 676.74,480.34 674.86,481.26" fill="#e2b64a"/>
<polygon points="666.10,485.10 665.34,483.15 663.25,483.03 664.86,481.70 664.34,479.67 666.10,480.80 667.86,479.67 667.34,481.70 668.95,483.03 666.86,483.15" fill="#e2b64a"/>
<polygon points="657.30,483.35 657.34,481.26 655.46,480.34 657.46,479.73 657.75,477.66 658.94,479.38 661.00,479.01 659.74,480.68 660.73,482.53 658.75,481.84" fill="#e2b64a"/>
<polygon points="649.84,478.36 650.67,476.45 649.28,474.88 651.37,475.08 652.43,473.28 652.88,475.32 654.92,475.77 653.12,476.83 653.32,478.92 651.75,477.53" fill="#e2b64a"/>
<polygon points="644.85,470.90 646.36,469.45 645.67,467.47 647.52,468.46 649.19,467.20 648.82,469.26 650.54,470.45 648.47,470.74 647.86,472.74 646.94,470.86" fill="#e2b64a"/>
<polygon points="643.10,462.10 645.05,461.34 645.17,459.25 646.50,460.86 648.53,460.34 647.40,462.10 648.53,463.86 646.50,463.34 645.17,464.95 645.05,462.86" fill="#e2b64a"/>
<polygon points="644.85,453.30 646.94,453.34 647.86,451.46 648.47,453.46 650.54,453.75 648.82,454.94 649.19,457.00 647.52,455.74 645.67,456.73 646.36,454.75" fill="#e2b64a"/>
<polygon points="649.84,445.84 651.75,446.67 653.32,445.28 653.12,447.37 654.92,448.43 652.88,448.88 652.43,450.92 651.37,449.12 649.28,449.32 650.67,447.75" fill="#e2b64a"/>
<polygon points="657.30,440.85 658.75,442.36 660.73,441.67 659.74,443.52 661.00,445.19 658.94,444.82 657.75,446.54 657.46,444.47 655.46,443.86 657.34,442.94" fill="#e2b64a"/>
<circle cx="666.1" cy="462.1" r="18.0" fill="none" stroke="#e8c46a" stroke-width="1.3"/>
<circle cx="666.1" cy="462.1" r="15.3" fill="url(#gl)"/>
<text x="666.3000000000001" y="467.1" text-anchor="middle" style="font-family:Liberation Serif;font-weight:bold;font-size:15px;fill:#fff" textLength="27.8" lengthAdjust="spacingAndGlyphs">NSF</text>
<line x1="691.1" y1="439.3" x2="691.1" y2="484.5" stroke="#1a1a1a" stroke-width="1.3"/>
<text x="696.6" y="469.2" style="font-family:Liberation Sans;font-weight:bold;font-size:19.4px;fill:#5f7147;stroke:#5f7147;stroke-width:0.5px" textLength="47.2" lengthAdjust="spacingAndGlyphs">SAGE</text>
<text x="748.6" y="469.2" style="font-family:Liberation Serif;font-size:21px;fill:#4e2a8e" textLength="29.6" lengthAdjust="spacingAndGlyphs">IRIS</text>
<text x="696.9" y="476.7" style="font-family:Liberation Sans;font-size:6.6px;fill:#5f7147" textLength="46.6" lengthAdjust="spacingAndGlyphs">Operated by IRIS</text>
<polyline points="749,452.8 761.5,452.8 762.4,450.5 763.2,447.8 764.0,456.2 764.8,451.5 765.5,452.8 777.2,452.8" fill="none" stroke="#b4acc4" stroke-width="0.9"/>
</svg></body></html>
